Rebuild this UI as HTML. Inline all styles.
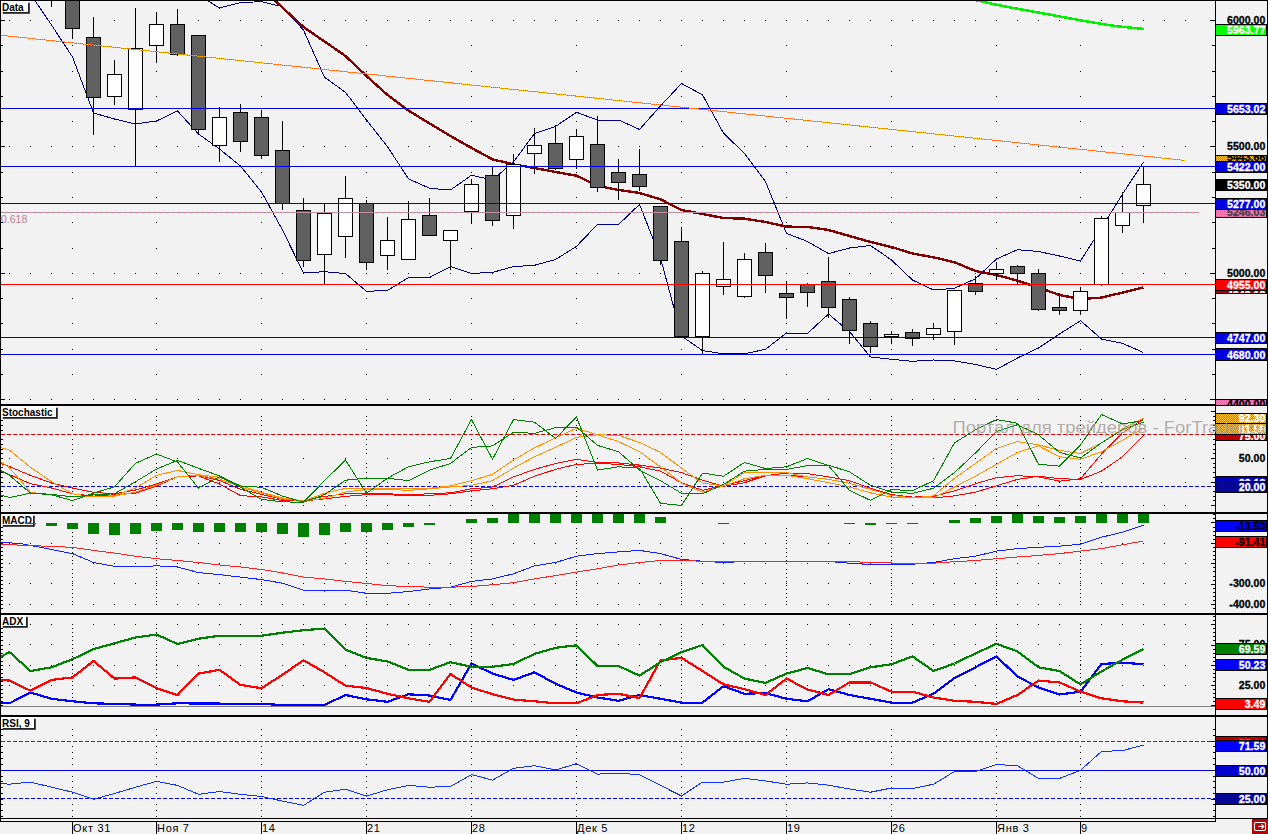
<!DOCTYPE html>
<html><head><meta charset="utf-8"><style>
html,body{margin:0;padding:0;width:1268px;height:834px;overflow:hidden;background:#f2f2f2}
body{position:relative;font-family:"Liberation Sans",sans-serif}
</style></head><body>
<svg width="1268" height="834" viewBox="0 0 1268 834" style="position:absolute;left:0;top:0">
<rect x="0" y="0" width="1268" height="834" fill="#f2f2f2"/>
<path d="M9 20h1v1h-1zM30 20h1v1h-1zM51 20h1v1h-1zM72 20h1v1h-1zM93 20h1v1h-1zM114 20h1v1h-1zM135 20h1v1h-1zM156 20h1v1h-1zM177 20h1v1h-1zM198 20h1v1h-1zM219 20h1v1h-1zM240 20h1v1h-1zM261 20h1v1h-1zM282 20h1v1h-1zM303 20h1v1h-1zM324 20h1v1h-1zM345 20h1v1h-1zM366 20h1v1h-1zM387 20h1v1h-1zM408 20h1v1h-1zM429 20h1v1h-1zM450 20h1v1h-1zM471 20h1v1h-1zM492 20h1v1h-1zM513 20h1v1h-1zM534 20h1v1h-1zM555 20h1v1h-1zM576 20h1v1h-1zM597 20h1v1h-1zM618 20h1v1h-1zM639 20h1v1h-1zM660 20h1v1h-1zM681 20h1v1h-1zM702 20h1v1h-1zM723 20h1v1h-1zM744 20h1v1h-1zM765 20h1v1h-1zM786 20h1v1h-1zM807 20h1v1h-1zM828 20h1v1h-1zM849 20h1v1h-1zM870 20h1v1h-1zM891 20h1v1h-1zM912 20h1v1h-1zM933 20h1v1h-1zM954 20h1v1h-1zM975 20h1v1h-1zM996 20h1v1h-1zM1017 20h1v1h-1zM1038 20h1v1h-1zM1059 20h1v1h-1zM1080 20h1v1h-1zM1101 20h1v1h-1zM1122 20h1v1h-1zM1143 20h1v1h-1zM1164 20h1v1h-1zM1185 20h1v1h-1zM1 20h4v1h-4zM72 45h1v1h-1zM156 45h1v1h-1zM261 45h1v1h-1zM366 45h1v1h-1zM471 45h1v1h-1zM576 45h1v1h-1zM681 45h1v1h-1zM786 45h1v1h-1zM891 45h1v1h-1zM996 45h1v1h-1zM1080 45h1v1h-1zM1 45h2v1h-2zM72 71h1v1h-1zM156 71h1v1h-1zM261 71h1v1h-1zM366 71h1v1h-1zM471 71h1v1h-1zM576 71h1v1h-1zM681 71h1v1h-1zM786 71h1v1h-1zM891 71h1v1h-1zM996 71h1v1h-1zM1080 71h1v1h-1zM1 71h2v1h-2zM72 96h1v1h-1zM156 96h1v1h-1zM261 96h1v1h-1zM366 96h1v1h-1zM471 96h1v1h-1zM576 96h1v1h-1zM681 96h1v1h-1zM786 96h1v1h-1zM891 96h1v1h-1zM996 96h1v1h-1zM1080 96h1v1h-1zM1 96h2v1h-2zM72 121h1v1h-1zM156 121h1v1h-1zM261 121h1v1h-1zM366 121h1v1h-1zM471 121h1v1h-1zM576 121h1v1h-1zM681 121h1v1h-1zM786 121h1v1h-1zM891 121h1v1h-1zM996 121h1v1h-1zM1080 121h1v1h-1zM1 121h2v1h-2zM9 146h1v1h-1zM30 146h1v1h-1zM51 146h1v1h-1zM72 146h1v1h-1zM93 146h1v1h-1zM114 146h1v1h-1zM135 146h1v1h-1zM156 146h1v1h-1zM177 146h1v1h-1zM198 146h1v1h-1zM219 146h1v1h-1zM240 146h1v1h-1zM261 146h1v1h-1zM282 146h1v1h-1zM303 146h1v1h-1zM324 146h1v1h-1zM345 146h1v1h-1zM366 146h1v1h-1zM387 146h1v1h-1zM408 146h1v1h-1zM429 146h1v1h-1zM450 146h1v1h-1zM471 146h1v1h-1zM492 146h1v1h-1zM513 146h1v1h-1zM534 146h1v1h-1zM555 146h1v1h-1zM576 146h1v1h-1zM597 146h1v1h-1zM618 146h1v1h-1zM639 146h1v1h-1zM660 146h1v1h-1zM681 146h1v1h-1zM702 146h1v1h-1zM723 146h1v1h-1zM744 146h1v1h-1zM765 146h1v1h-1zM786 146h1v1h-1zM807 146h1v1h-1zM828 146h1v1h-1zM849 146h1v1h-1zM870 146h1v1h-1zM891 146h1v1h-1zM912 146h1v1h-1zM933 146h1v1h-1zM954 146h1v1h-1zM975 146h1v1h-1zM996 146h1v1h-1zM1017 146h1v1h-1zM1038 146h1v1h-1zM1059 146h1v1h-1zM1080 146h1v1h-1zM1101 146h1v1h-1zM1122 146h1v1h-1zM1143 146h1v1h-1zM1164 146h1v1h-1zM1185 146h1v1h-1zM1 146h4v1h-4zM72 172h1v1h-1zM156 172h1v1h-1zM261 172h1v1h-1zM366 172h1v1h-1zM471 172h1v1h-1zM576 172h1v1h-1zM681 172h1v1h-1zM786 172h1v1h-1zM891 172h1v1h-1zM996 172h1v1h-1zM1080 172h1v1h-1zM1 172h2v1h-2zM72 197h1v1h-1zM156 197h1v1h-1zM261 197h1v1h-1zM366 197h1v1h-1zM471 197h1v1h-1zM576 197h1v1h-1zM681 197h1v1h-1zM786 197h1v1h-1zM891 197h1v1h-1zM996 197h1v1h-1zM1080 197h1v1h-1zM1 197h2v1h-2zM72 222h1v1h-1zM156 222h1v1h-1zM261 222h1v1h-1zM366 222h1v1h-1zM471 222h1v1h-1zM576 222h1v1h-1zM681 222h1v1h-1zM786 222h1v1h-1zM891 222h1v1h-1zM996 222h1v1h-1zM1080 222h1v1h-1zM1 222h2v1h-2zM72 248h1v1h-1zM156 248h1v1h-1zM261 248h1v1h-1zM366 248h1v1h-1zM471 248h1v1h-1zM576 248h1v1h-1zM681 248h1v1h-1zM786 248h1v1h-1zM891 248h1v1h-1zM996 248h1v1h-1zM1080 248h1v1h-1zM1 248h2v1h-2zM9 273h1v1h-1zM30 273h1v1h-1zM51 273h1v1h-1zM72 273h1v1h-1zM93 273h1v1h-1zM114 273h1v1h-1zM135 273h1v1h-1zM156 273h1v1h-1zM177 273h1v1h-1zM198 273h1v1h-1zM219 273h1v1h-1zM240 273h1v1h-1zM261 273h1v1h-1zM282 273h1v1h-1zM303 273h1v1h-1zM324 273h1v1h-1zM345 273h1v1h-1zM366 273h1v1h-1zM387 273h1v1h-1zM408 273h1v1h-1zM429 273h1v1h-1zM450 273h1v1h-1zM471 273h1v1h-1zM492 273h1v1h-1zM513 273h1v1h-1zM534 273h1v1h-1zM555 273h1v1h-1zM576 273h1v1h-1zM597 273h1v1h-1zM618 273h1v1h-1zM639 273h1v1h-1zM660 273h1v1h-1zM681 273h1v1h-1zM702 273h1v1h-1zM723 273h1v1h-1zM744 273h1v1h-1zM765 273h1v1h-1zM786 273h1v1h-1zM807 273h1v1h-1zM828 273h1v1h-1zM849 273h1v1h-1zM870 273h1v1h-1zM891 273h1v1h-1zM912 273h1v1h-1zM933 273h1v1h-1zM954 273h1v1h-1zM975 273h1v1h-1zM996 273h1v1h-1zM1017 273h1v1h-1zM1038 273h1v1h-1zM1059 273h1v1h-1zM1080 273h1v1h-1zM1101 273h1v1h-1zM1122 273h1v1h-1zM1143 273h1v1h-1zM1164 273h1v1h-1zM1185 273h1v1h-1zM1 273h4v1h-4zM72 298h1v1h-1zM156 298h1v1h-1zM261 298h1v1h-1zM366 298h1v1h-1zM471 298h1v1h-1zM576 298h1v1h-1zM681 298h1v1h-1zM786 298h1v1h-1zM891 298h1v1h-1zM996 298h1v1h-1zM1080 298h1v1h-1zM1 298h2v1h-2zM72 323h1v1h-1zM156 323h1v1h-1zM261 323h1v1h-1zM366 323h1v1h-1zM471 323h1v1h-1zM576 323h1v1h-1zM681 323h1v1h-1zM786 323h1v1h-1zM891 323h1v1h-1zM996 323h1v1h-1zM1080 323h1v1h-1zM1 323h2v1h-2zM72 349h1v1h-1zM156 349h1v1h-1zM261 349h1v1h-1zM366 349h1v1h-1zM471 349h1v1h-1zM576 349h1v1h-1zM681 349h1v1h-1zM786 349h1v1h-1zM891 349h1v1h-1zM996 349h1v1h-1zM1080 349h1v1h-1zM1 349h2v1h-2zM72 374h1v1h-1zM156 374h1v1h-1zM261 374h1v1h-1zM366 374h1v1h-1zM471 374h1v1h-1zM576 374h1v1h-1zM681 374h1v1h-1zM786 374h1v1h-1zM891 374h1v1h-1zM996 374h1v1h-1zM1080 374h1v1h-1zM1 374h2v1h-2zM9 399h1v1h-1zM30 399h1v1h-1zM51 399h1v1h-1zM72 399h1v1h-1zM93 399h1v1h-1zM114 399h1v1h-1zM135 399h1v1h-1zM156 399h1v1h-1zM177 399h1v1h-1zM198 399h1v1h-1zM219 399h1v1h-1zM240 399h1v1h-1zM261 399h1v1h-1zM282 399h1v1h-1zM303 399h1v1h-1zM324 399h1v1h-1zM345 399h1v1h-1zM366 399h1v1h-1zM387 399h1v1h-1zM408 399h1v1h-1zM429 399h1v1h-1zM450 399h1v1h-1zM471 399h1v1h-1zM492 399h1v1h-1zM513 399h1v1h-1zM534 399h1v1h-1zM555 399h1v1h-1zM576 399h1v1h-1zM597 399h1v1h-1zM618 399h1v1h-1zM639 399h1v1h-1zM660 399h1v1h-1zM681 399h1v1h-1zM702 399h1v1h-1zM723 399h1v1h-1zM744 399h1v1h-1zM765 399h1v1h-1zM786 399h1v1h-1zM807 399h1v1h-1zM828 399h1v1h-1zM849 399h1v1h-1zM870 399h1v1h-1zM891 399h1v1h-1zM912 399h1v1h-1zM933 399h1v1h-1zM954 399h1v1h-1zM975 399h1v1h-1zM996 399h1v1h-1zM1017 399h1v1h-1zM1038 399h1v1h-1zM1059 399h1v1h-1zM1080 399h1v1h-1zM1101 399h1v1h-1zM1122 399h1v1h-1zM1143 399h1v1h-1zM1164 399h1v1h-1zM1185 399h1v1h-1zM1 399h4v1h-4z" fill="#000"/>
<g shape-rendering="crispEdges">
<polyline points="198.5,-5.0 219.5,8.0 240.5,2.5 261.5,1.7 282.5,6.7 303.5,30.2 324.5,77.2 345.5,92.4 366.5,120.0 387.5,146.7 408.5,178.8 429.5,188.3 450.5,190.0 471.5,175.2 492.5,180.0 513.5,161.9 534.5,133.5 555.5,126.5 576.5,112.3 597.5,120.0 618.5,120.0 639.5,129.4 660.5,106.0 681.5,83.5 702.5,94.8 723.5,133.2 744.5,153.4 765.5,181.6 786.5,233.4 807.5,241.5 828.5,253.6 849.5,248.0 870.5,245.5 891.5,260.0 912.5,280.0 933.5,290.0 954.5,288.3 975.5,278.7 996.5,259.0 1017.5,249.7 1038.5,251.5 1059.5,256.0 1080.5,261.0 1101.5,228.0 1122.5,194.0 1143.5,162.0" fill="none" stroke="#000080" stroke-width="1" />
<polyline points="34.5,0.0 51.5,25.0 72.5,57.0 93.5,113.0 114.5,119.0 135.5,124.0 156.5,121.0 177.5,111.0 198.5,134.0 219.5,149.0 240.5,166.0 261.5,192.0 282.5,230.0 303.5,273.0 324.5,271.7 345.5,273.6 366.5,291.3 387.5,290.5 408.5,277.5 429.5,277.5 450.5,266.6 471.5,273.4 492.5,272.4 513.5,266.6 534.5,265.3 555.5,259.5 576.5,246.4 597.5,224.4 618.5,224.6 639.5,204.4 660.5,258.0 681.5,336.0 702.5,350.6 723.5,353.8 744.5,353.8 765.5,349.3 786.5,333.0 807.5,333.4 828.5,314.0 849.5,331.6 870.5,357.0 891.5,359.3 912.5,361.3 933.5,360.0 954.5,361.0 975.5,364.4 996.5,369.4 1017.5,358.0 1038.5,348.0 1059.5,334.0 1080.5,320.7 1101.5,339.0 1122.5,343.4 1143.5,352.5" fill="none" stroke="#000080" stroke-width="1" />
<polyline points="261.5,-12.0 282.5,7.6 303.5,27.0 324.5,41.5 345.5,56.0 366.5,76.0 387.5,95.0 408.5,110.5 429.5,123.5 450.5,136.0 471.5,148.0 492.5,159.3 513.5,164.4 534.5,168.0 555.5,172.0 576.5,175.7 597.5,185.8 618.5,190.0 639.5,193.0 660.5,199.3 681.5,210.0 702.5,214.0 723.5,218.0 744.5,218.7 765.5,222.0 786.5,226.6 807.5,227.0 828.5,230.0 849.5,236.0 870.5,242.0 891.5,247.0 912.5,253.5 933.5,257.3 954.5,262.3 975.5,271.0 996.5,275.0 1017.5,280.7 1038.5,287.5 1059.5,295.0 1080.5,299.0 1101.5,297.6 1122.5,292.6 1143.5,287.5" fill="none" stroke="#800000" stroke-width="2.4" />
</g>
<g shape-rendering="crispEdges"><rect x="72" y="28" width="1" height="11" fill="#000"/><rect x="65.5" y="0.5" width="14" height="28" fill="#606060" stroke="#000" stroke-width="1"/><rect x="93" y="17" width="1" height="20" fill="#000"/><rect x="93" y="97" width="1" height="38" fill="#000"/><rect x="86.5" y="37.5" width="14" height="60" fill="#606060" stroke="#000" stroke-width="1"/><rect x="114" y="60" width="1" height="14" fill="#000"/><rect x="114" y="96" width="1" height="9" fill="#000"/><rect x="107.5" y="74.5" width="14" height="22" fill="#ffffff" stroke="#000" stroke-width="1"/><rect x="135" y="8" width="1" height="40" fill="#000"/><rect x="135" y="109" width="1" height="58" fill="#000"/><rect x="128.5" y="48.5" width="14" height="61" fill="#ffffff" stroke="#000" stroke-width="1"/><rect x="156" y="12" width="1" height="12" fill="#000"/><rect x="156" y="45" width="1" height="18" fill="#000"/><rect x="149.5" y="24.5" width="14" height="21" fill="#ffffff" stroke="#000" stroke-width="1"/><rect x="177" y="9" width="1" height="15" fill="#000"/><rect x="177" y="54" width="1" height="2" fill="#000"/><rect x="170.5" y="24.5" width="14" height="30" fill="#606060" stroke="#000" stroke-width="1"/><rect x="198" y="129" width="1" height="4" fill="#000"/><rect x="191.5" y="35.5" width="14" height="94" fill="#606060" stroke="#000" stroke-width="1"/><rect x="219" y="107" width="1" height="10" fill="#000"/><rect x="219" y="145" width="1" height="17" fill="#000"/><rect x="212.5" y="117.5" width="14" height="28" fill="#ffffff" stroke="#000" stroke-width="1"/><rect x="240" y="104" width="1" height="8" fill="#000"/><rect x="240" y="141" width="1" height="11" fill="#000"/><rect x="233.5" y="112.5" width="14" height="29" fill="#606060" stroke="#000" stroke-width="1"/><rect x="261" y="110" width="1" height="7" fill="#000"/><rect x="261" y="155" width="1" height="4" fill="#000"/><rect x="254.5" y="117.5" width="14" height="38" fill="#606060" stroke="#000" stroke-width="1"/><rect x="282" y="121" width="1" height="29" fill="#000"/><rect x="282" y="203" width="1" height="7" fill="#000"/><rect x="275.5" y="150.5" width="14" height="53" fill="#606060" stroke="#000" stroke-width="1"/><rect x="303" y="198" width="1" height="12" fill="#000"/><rect x="303" y="260" width="1" height="7" fill="#000"/><rect x="296.5" y="210.5" width="14" height="50" fill="#606060" stroke="#000" stroke-width="1"/><rect x="324" y="203" width="1" height="10" fill="#000"/><rect x="324" y="254" width="1" height="31" fill="#000"/><rect x="317.5" y="213.5" width="14" height="41" fill="#ffffff" stroke="#000" stroke-width="1"/><rect x="345" y="176" width="1" height="22" fill="#000"/><rect x="345" y="236" width="1" height="22" fill="#000"/><rect x="338.5" y="198.5" width="14" height="38" fill="#ffffff" stroke="#000" stroke-width="1"/><rect x="366" y="200" width="1" height="3" fill="#000"/><rect x="366" y="262" width="1" height="8" fill="#000"/><rect x="359.5" y="203.5" width="14" height="59" fill="#606060" stroke="#000" stroke-width="1"/><rect x="387" y="217" width="1" height="23" fill="#000"/><rect x="387" y="255" width="1" height="15" fill="#000"/><rect x="380.5" y="240.5" width="14" height="15" fill="#ffffff" stroke="#000" stroke-width="1"/><rect x="408" y="201" width="1" height="18" fill="#000"/><rect x="401.5" y="219.5" width="14" height="40" fill="#ffffff" stroke="#000" stroke-width="1"/><rect x="429" y="198" width="1" height="17" fill="#000"/><rect x="422.5" y="215.5" width="14" height="20" fill="#606060" stroke="#000" stroke-width="1"/><rect x="450" y="240" width="1" height="30" fill="#000"/><rect x="443.5" y="230.5" width="14" height="10" fill="#ffffff" stroke="#000" stroke-width="1"/><rect x="471" y="179" width="1" height="5" fill="#000"/><rect x="471" y="211" width="1" height="13" fill="#000"/><rect x="464.5" y="184.5" width="14" height="27" fill="#ffffff" stroke="#000" stroke-width="1"/><rect x="492" y="167" width="1" height="8" fill="#000"/><rect x="492" y="220" width="1" height="6" fill="#000"/><rect x="485.5" y="175.5" width="14" height="45" fill="#606060" stroke="#000" stroke-width="1"/><rect x="513" y="154" width="1" height="10" fill="#000"/><rect x="513" y="215" width="1" height="14" fill="#000"/><rect x="506.5" y="164.5" width="14" height="51" fill="#ffffff" stroke="#000" stroke-width="1"/><rect x="534" y="128" width="1" height="17" fill="#000"/><rect x="534" y="153" width="1" height="21" fill="#000"/><rect x="527.5" y="145.5" width="14" height="8" fill="#ffffff" stroke="#000" stroke-width="1"/><rect x="555" y="125" width="1" height="18" fill="#000"/><rect x="555" y="168" width="1" height="2" fill="#000"/><rect x="548.5" y="143.5" width="14" height="25" fill="#606060" stroke="#000" stroke-width="1"/><rect x="576" y="129" width="1" height="7" fill="#000"/><rect x="576" y="159" width="1" height="10" fill="#000"/><rect x="569.5" y="136.5" width="14" height="23" fill="#ffffff" stroke="#000" stroke-width="1"/><rect x="597" y="116" width="1" height="28" fill="#000"/><rect x="597" y="187" width="1" height="5" fill="#000"/><rect x="590.5" y="144.5" width="14" height="43" fill="#606060" stroke="#000" stroke-width="1"/><rect x="618" y="159" width="1" height="13" fill="#000"/><rect x="618" y="182" width="1" height="18" fill="#000"/><rect x="611.5" y="172.5" width="14" height="10" fill="#606060" stroke="#000" stroke-width="1"/><rect x="639" y="149" width="1" height="25" fill="#000"/><rect x="639" y="186" width="1" height="5" fill="#000"/><rect x="632.5" y="174.5" width="14" height="12" fill="#606060" stroke="#000" stroke-width="1"/><rect x="660" y="260" width="1" height="5" fill="#000"/><rect x="653.5" y="206.5" width="14" height="54" fill="#606060" stroke="#000" stroke-width="1"/><rect x="681" y="227" width="1" height="14" fill="#000"/><rect x="674.5" y="241.5" width="14" height="95" fill="#606060" stroke="#000" stroke-width="1"/><rect x="702" y="271" width="1" height="2" fill="#000"/><rect x="702" y="336" width="1" height="19" fill="#000"/><rect x="695.5" y="273.5" width="14" height="63" fill="#ffffff" stroke="#000" stroke-width="1"/><rect x="723" y="242" width="1" height="37" fill="#000"/><rect x="723" y="286" width="1" height="9" fill="#000"/><rect x="716.5" y="279.5" width="14" height="7" fill="#ffffff" stroke="#000" stroke-width="1"/><rect x="744" y="253" width="1" height="6" fill="#000"/><rect x="744" y="296" width="1" height="2" fill="#000"/><rect x="737.5" y="259.5" width="14" height="37" fill="#ffffff" stroke="#000" stroke-width="1"/><rect x="765" y="243" width="1" height="9" fill="#000"/><rect x="765" y="275" width="1" height="18" fill="#000"/><rect x="758.5" y="252.5" width="14" height="23" fill="#606060" stroke="#000" stroke-width="1"/><rect x="786" y="281" width="1" height="12" fill="#000"/><rect x="786" y="297" width="1" height="22" fill="#000"/><rect x="779.5" y="293.5" width="14" height="4" fill="#606060" stroke="#000" stroke-width="1"/><rect x="807" y="283" width="1" height="1" fill="#000"/><rect x="807" y="292" width="1" height="15" fill="#000"/><rect x="800.5" y="284.5" width="14" height="8" fill="#606060" stroke="#000" stroke-width="1"/><rect x="828" y="257" width="1" height="24" fill="#000"/><rect x="828" y="307" width="1" height="11" fill="#000"/><rect x="821.5" y="281.5" width="14" height="26" fill="#606060" stroke="#000" stroke-width="1"/><rect x="849" y="297" width="1" height="2" fill="#000"/><rect x="849" y="330" width="1" height="14" fill="#000"/><rect x="842.5" y="299.5" width="14" height="31" fill="#606060" stroke="#000" stroke-width="1"/><rect x="870" y="321" width="1" height="2" fill="#000"/><rect x="870" y="346" width="1" height="7" fill="#000"/><rect x="863.5" y="323.5" width="14" height="23" fill="#606060" stroke="#000" stroke-width="1"/><rect x="891" y="331" width="1" height="3" fill="#000"/><rect x="891" y="336" width="1" height="8" fill="#000"/><rect x="884.5" y="334.5" width="14" height="2" fill="#ffffff" stroke="#000" stroke-width="1"/><rect x="912" y="329" width="1" height="3" fill="#000"/><rect x="912" y="338" width="1" height="8" fill="#000"/><rect x="905.5" y="332.5" width="14" height="6" fill="#606060" stroke="#000" stroke-width="1"/><rect x="933" y="323" width="1" height="5" fill="#000"/><rect x="933" y="334" width="1" height="6" fill="#000"/><rect x="926.5" y="328.5" width="14" height="6" fill="#ffffff" stroke="#000" stroke-width="1"/><rect x="954" y="331" width="1" height="14" fill="#000"/><rect x="947.5" y="290.5" width="14" height="41" fill="#ffffff" stroke="#000" stroke-width="1"/><rect x="975" y="276" width="1" height="7" fill="#000"/><rect x="975" y="291" width="1" height="4" fill="#000"/><rect x="968.5" y="283.5" width="14" height="8" fill="#606060" stroke="#000" stroke-width="1"/><rect x="996" y="262" width="1" height="7" fill="#000"/><rect x="996" y="273" width="1" height="7" fill="#000"/><rect x="989.5" y="269.5" width="14" height="4" fill="#ffffff" stroke="#000" stroke-width="1"/><rect x="1017" y="265" width="1" height="1" fill="#000"/><rect x="1017" y="273" width="1" height="11" fill="#000"/><rect x="1010.5" y="266.5" width="14" height="7" fill="#606060" stroke="#000" stroke-width="1"/><rect x="1038" y="269" width="1" height="4" fill="#000"/><rect x="1038" y="309" width="1" height="2" fill="#000"/><rect x="1031.5" y="273.5" width="14" height="36" fill="#606060" stroke="#000" stroke-width="1"/><rect x="1059" y="293" width="1" height="14" fill="#000"/><rect x="1059" y="310" width="1" height="5" fill="#000"/><rect x="1052.5" y="307.5" width="14" height="3" fill="#606060" stroke="#000" stroke-width="1"/><rect x="1080" y="287" width="1" height="4" fill="#000"/><rect x="1080" y="310" width="1" height="5" fill="#000"/><rect x="1073.5" y="291.5" width="14" height="19" fill="#ffffff" stroke="#000" stroke-width="1"/><rect x="1101" y="216" width="1" height="2" fill="#000"/><rect x="1101" y="284" width="1" height="2" fill="#000"/><rect x="1094.5" y="218.5" width="14" height="66" fill="#ffffff" stroke="#000" stroke-width="1"/><rect x="1122" y="192" width="1" height="20" fill="#000"/><rect x="1122" y="225" width="1" height="8" fill="#000"/><rect x="1115.5" y="212.5" width="14" height="13" fill="#ffffff" stroke="#000" stroke-width="1"/><rect x="1143" y="166" width="1" height="18" fill="#000"/><rect x="1143" y="205" width="1" height="18" fill="#000"/><rect x="1136.5" y="184.5" width="14" height="21" fill="#ffffff" stroke="#000" stroke-width="1"/><rect x="51" y="0" width="1" height="7" fill="#000"/></g>
<g shape-rendering="crispEdges">
<rect x="1" y="108" width="1214" height="1" fill="#0000dd"/>
<rect x="1" y="166" width="1214" height="1" fill="#0000dd"/>
<rect x="1" y="203" width="1214" height="1" fill="#0000dd"/>
<rect x="1" y="337" width="1214" height="1" fill="#0000dd"/>
<rect x="1" y="354" width="1214" height="1" fill="#0000dd"/>
<rect x="1" y="284" width="1214" height="1" fill="#ff0000"/>
<rect x="1" y="212" width="1198" height="1" fill="#a0a0a0"/>
<line x1="1" y1="212.5" x2="1199" y2="212.5" stroke="#ff70a0" stroke-width="1" stroke-dasharray="1,2"/>
</g>
<text x="1" y="222.8" font-family="Liberation Sans" font-size="10.5" fill="#b88090">0.618</text>
<g shape-rendering="crispEdges"><line x1="0" y1="35.2" x2="1185" y2="160.4" stroke="#ffb000" stroke-width="1"/><line x1="0" y1="35.2" x2="1185" y2="160.4" stroke="#ff5a00" stroke-width="1" stroke-dasharray="1,1"/></g>
<polyline points="975,0 1000,5.5 1030,11 1060,16.5 1090,22 1115,26 1144,29" fill="none" stroke="#00f000" stroke-width="2.5" shape-rendering="crispEdges"/>
<path d="M72 505h1v1h-1zM72 500h1v1h-1zM72 496h1v1h-1zM72 491h1v1h-1zM72 477h1v1h-1zM72 472h1v1h-1zM72 467h1v1h-1zM72 463h1v1h-1zM72 453h1v1h-1zM72 449h1v1h-1zM72 444h1v1h-1zM72 439h1v1h-1zM72 430h1v1h-1zM72 425h1v1h-1zM72 420h1v1h-1zM72 416h1v1h-1zM156 505h1v1h-1zM156 500h1v1h-1zM156 496h1v1h-1zM156 491h1v1h-1zM156 477h1v1h-1zM156 472h1v1h-1zM156 467h1v1h-1zM156 463h1v1h-1zM156 453h1v1h-1zM156 449h1v1h-1zM156 444h1v1h-1zM156 439h1v1h-1zM156 430h1v1h-1zM156 425h1v1h-1zM156 420h1v1h-1zM156 416h1v1h-1zM261 505h1v1h-1zM261 500h1v1h-1zM261 496h1v1h-1zM261 491h1v1h-1zM261 477h1v1h-1zM261 472h1v1h-1zM261 467h1v1h-1zM261 463h1v1h-1zM261 453h1v1h-1zM261 449h1v1h-1zM261 444h1v1h-1zM261 439h1v1h-1zM261 430h1v1h-1zM261 425h1v1h-1zM261 420h1v1h-1zM261 416h1v1h-1zM366 505h1v1h-1zM366 500h1v1h-1zM366 496h1v1h-1zM366 491h1v1h-1zM366 477h1v1h-1zM366 472h1v1h-1zM366 467h1v1h-1zM366 463h1v1h-1zM366 453h1v1h-1zM366 449h1v1h-1zM366 444h1v1h-1zM366 439h1v1h-1zM366 430h1v1h-1zM366 425h1v1h-1zM366 420h1v1h-1zM366 416h1v1h-1zM471 505h1v1h-1zM471 500h1v1h-1zM471 496h1v1h-1zM471 491h1v1h-1zM471 477h1v1h-1zM471 472h1v1h-1zM471 467h1v1h-1zM471 463h1v1h-1zM471 453h1v1h-1zM471 449h1v1h-1zM471 444h1v1h-1zM471 439h1v1h-1zM471 430h1v1h-1zM471 425h1v1h-1zM471 420h1v1h-1zM471 416h1v1h-1zM576 505h1v1h-1zM576 500h1v1h-1zM576 496h1v1h-1zM576 491h1v1h-1zM576 477h1v1h-1zM576 472h1v1h-1zM576 467h1v1h-1zM576 463h1v1h-1zM576 453h1v1h-1zM576 449h1v1h-1zM576 444h1v1h-1zM576 439h1v1h-1zM576 430h1v1h-1zM576 425h1v1h-1zM576 420h1v1h-1zM576 416h1v1h-1zM681 505h1v1h-1zM681 500h1v1h-1zM681 496h1v1h-1zM681 491h1v1h-1zM681 477h1v1h-1zM681 472h1v1h-1zM681 467h1v1h-1zM681 463h1v1h-1zM681 453h1v1h-1zM681 449h1v1h-1zM681 444h1v1h-1zM681 439h1v1h-1zM681 430h1v1h-1zM681 425h1v1h-1zM681 420h1v1h-1zM681 416h1v1h-1zM786 505h1v1h-1zM786 500h1v1h-1zM786 496h1v1h-1zM786 491h1v1h-1zM786 477h1v1h-1zM786 472h1v1h-1zM786 467h1v1h-1zM786 463h1v1h-1zM786 453h1v1h-1zM786 449h1v1h-1zM786 444h1v1h-1zM786 439h1v1h-1zM786 430h1v1h-1zM786 425h1v1h-1zM786 420h1v1h-1zM786 416h1v1h-1zM891 505h1v1h-1zM891 500h1v1h-1zM891 496h1v1h-1zM891 491h1v1h-1zM891 477h1v1h-1zM891 472h1v1h-1zM891 467h1v1h-1zM891 463h1v1h-1zM891 453h1v1h-1zM891 449h1v1h-1zM891 444h1v1h-1zM891 439h1v1h-1zM891 430h1v1h-1zM891 425h1v1h-1zM891 420h1v1h-1zM891 416h1v1h-1zM996 505h1v1h-1zM996 500h1v1h-1zM996 496h1v1h-1zM996 491h1v1h-1zM996 477h1v1h-1zM996 472h1v1h-1zM996 467h1v1h-1zM996 463h1v1h-1zM996 453h1v1h-1zM996 449h1v1h-1zM996 444h1v1h-1zM996 439h1v1h-1zM996 430h1v1h-1zM996 425h1v1h-1zM996 420h1v1h-1zM996 416h1v1h-1zM1080 505h1v1h-1zM1080 500h1v1h-1zM1080 496h1v1h-1zM1080 491h1v1h-1zM1080 477h1v1h-1zM1080 472h1v1h-1zM1080 467h1v1h-1zM1080 463h1v1h-1zM1080 453h1v1h-1zM1080 449h1v1h-1zM1080 444h1v1h-1zM1080 439h1v1h-1zM1080 430h1v1h-1zM1080 425h1v1h-1zM1080 420h1v1h-1zM1080 416h1v1h-1zM9 505h1v1h-1zM30 505h1v1h-1zM51 505h1v1h-1zM72 505h1v1h-1zM93 505h1v1h-1zM114 505h1v1h-1zM135 505h1v1h-1zM156 505h1v1h-1zM177 505h1v1h-1zM198 505h1v1h-1zM219 505h1v1h-1zM240 505h1v1h-1zM261 505h1v1h-1zM282 505h1v1h-1zM303 505h1v1h-1zM324 505h1v1h-1zM345 505h1v1h-1zM366 505h1v1h-1zM387 505h1v1h-1zM408 505h1v1h-1zM429 505h1v1h-1zM450 505h1v1h-1zM471 505h1v1h-1zM492 505h1v1h-1zM513 505h1v1h-1zM534 505h1v1h-1zM555 505h1v1h-1zM576 505h1v1h-1zM597 505h1v1h-1zM618 505h1v1h-1zM639 505h1v1h-1zM660 505h1v1h-1zM681 505h1v1h-1zM702 505h1v1h-1zM723 505h1v1h-1zM744 505h1v1h-1zM765 505h1v1h-1zM786 505h1v1h-1zM807 505h1v1h-1zM828 505h1v1h-1zM849 505h1v1h-1zM870 505h1v1h-1zM891 505h1v1h-1zM912 505h1v1h-1zM933 505h1v1h-1zM954 505h1v1h-1zM975 505h1v1h-1zM996 505h1v1h-1zM1017 505h1v1h-1zM1038 505h1v1h-1zM1059 505h1v1h-1zM1080 505h1v1h-1zM1101 505h1v1h-1zM1122 505h1v1h-1zM1143 505h1v1h-1zM1164 505h1v1h-1zM1185 505h1v1h-1zM9 458h1v1h-1zM9 482h1v1h-1zM51 458h1v1h-1zM51 482h1v1h-1zM93 458h1v1h-1zM93 482h1v1h-1zM135 458h1v1h-1zM135 482h1v1h-1zM177 458h1v1h-1zM177 482h1v1h-1zM219 458h1v1h-1zM219 482h1v1h-1zM261 458h1v1h-1zM261 482h1v1h-1zM303 458h1v1h-1zM303 482h1v1h-1zM345 458h1v1h-1zM345 482h1v1h-1zM387 458h1v1h-1zM387 482h1v1h-1zM429 458h1v1h-1zM429 482h1v1h-1zM471 458h1v1h-1zM471 482h1v1h-1zM513 458h1v1h-1zM513 482h1v1h-1zM555 458h1v1h-1zM555 482h1v1h-1zM597 458h1v1h-1zM597 482h1v1h-1zM639 458h1v1h-1zM639 482h1v1h-1zM681 458h1v1h-1zM681 482h1v1h-1zM723 458h1v1h-1zM723 482h1v1h-1zM765 458h1v1h-1zM765 482h1v1h-1zM807 458h1v1h-1zM807 482h1v1h-1zM849 458h1v1h-1zM849 482h1v1h-1zM891 458h1v1h-1zM891 482h1v1h-1zM933 458h1v1h-1zM933 482h1v1h-1zM975 458h1v1h-1zM975 482h1v1h-1zM1017 458h1v1h-1zM1017 482h1v1h-1zM1059 458h1v1h-1zM1059 482h1v1h-1zM1101 458h1v1h-1zM1101 482h1v1h-1zM1143 458h1v1h-1zM1143 482h1v1h-1zM1185 458h1v1h-1zM1185 482h1v1h-1zM1 505h2v1h-2zM1 500h2v1h-2zM1 496h2v1h-2zM1 491h2v1h-2zM1 486h2v1h-2zM1 482h2v1h-2zM1 477h2v1h-2zM1 472h2v1h-2zM1 467h2v1h-2zM1 463h2v1h-2zM1 458h2v1h-2zM1 453h2v1h-2zM1 449h2v1h-2zM1 444h2v1h-2zM1 439h2v1h-2zM1 434h2v1h-2zM1 430h2v1h-2zM1 425h2v1h-2zM1 420h2v1h-2zM1 416h2v1h-2zM1 411h2v1h-2zM1 406h2v1h-2zM9 543h1v1h-1zM30 543h1v1h-1zM51 543h1v1h-1zM72 543h1v1h-1zM93 543h1v1h-1zM114 543h1v1h-1zM135 543h1v1h-1zM156 543h1v1h-1zM177 543h1v1h-1zM198 543h1v1h-1zM219 543h1v1h-1zM240 543h1v1h-1zM261 543h1v1h-1zM282 543h1v1h-1zM303 543h1v1h-1zM324 543h1v1h-1zM345 543h1v1h-1zM366 543h1v1h-1zM387 543h1v1h-1zM408 543h1v1h-1zM429 543h1v1h-1zM450 543h1v1h-1zM471 543h1v1h-1zM492 543h1v1h-1zM513 543h1v1h-1zM534 543h1v1h-1zM555 543h1v1h-1zM576 543h1v1h-1zM597 543h1v1h-1zM618 543h1v1h-1zM639 543h1v1h-1zM660 543h1v1h-1zM681 543h1v1h-1zM702 543h1v1h-1zM723 543h1v1h-1zM744 543h1v1h-1zM765 543h1v1h-1zM786 543h1v1h-1zM807 543h1v1h-1zM828 543h1v1h-1zM849 543h1v1h-1zM870 543h1v1h-1zM891 543h1v1h-1zM912 543h1v1h-1zM933 543h1v1h-1zM954 543h1v1h-1zM975 543h1v1h-1zM996 543h1v1h-1zM1017 543h1v1h-1zM1038 543h1v1h-1zM1059 543h1v1h-1zM1080 543h1v1h-1zM1101 543h1v1h-1zM1122 543h1v1h-1zM1143 543h1v1h-1zM1164 543h1v1h-1zM1185 543h1v1h-1zM9 563h1v1h-1zM30 563h1v1h-1zM51 563h1v1h-1zM72 563h1v1h-1zM93 563h1v1h-1zM114 563h1v1h-1zM135 563h1v1h-1zM156 563h1v1h-1zM177 563h1v1h-1zM198 563h1v1h-1zM219 563h1v1h-1zM240 563h1v1h-1zM261 563h1v1h-1zM282 563h1v1h-1zM303 563h1v1h-1zM324 563h1v1h-1zM345 563h1v1h-1zM366 563h1v1h-1zM387 563h1v1h-1zM408 563h1v1h-1zM429 563h1v1h-1zM450 563h1v1h-1zM471 563h1v1h-1zM492 563h1v1h-1zM513 563h1v1h-1zM534 563h1v1h-1zM555 563h1v1h-1zM576 563h1v1h-1zM597 563h1v1h-1zM618 563h1v1h-1zM639 563h1v1h-1zM660 563h1v1h-1zM681 563h1v1h-1zM702 563h1v1h-1zM723 563h1v1h-1zM744 563h1v1h-1zM765 563h1v1h-1zM786 563h1v1h-1zM807 563h1v1h-1zM828 563h1v1h-1zM849 563h1v1h-1zM870 563h1v1h-1zM891 563h1v1h-1zM912 563h1v1h-1zM933 563h1v1h-1zM954 563h1v1h-1zM975 563h1v1h-1zM996 563h1v1h-1zM1017 563h1v1h-1zM1038 563h1v1h-1zM1059 563h1v1h-1zM1080 563h1v1h-1zM1101 563h1v1h-1zM1122 563h1v1h-1zM1143 563h1v1h-1zM1164 563h1v1h-1zM1185 563h1v1h-1zM9 583h1v1h-1zM30 583h1v1h-1zM51 583h1v1h-1zM72 583h1v1h-1zM93 583h1v1h-1zM114 583h1v1h-1zM135 583h1v1h-1zM156 583h1v1h-1zM177 583h1v1h-1zM198 583h1v1h-1zM219 583h1v1h-1zM240 583h1v1h-1zM261 583h1v1h-1zM282 583h1v1h-1zM303 583h1v1h-1zM324 583h1v1h-1zM345 583h1v1h-1zM366 583h1v1h-1zM387 583h1v1h-1zM408 583h1v1h-1zM429 583h1v1h-1zM450 583h1v1h-1zM471 583h1v1h-1zM492 583h1v1h-1zM513 583h1v1h-1zM534 583h1v1h-1zM555 583h1v1h-1zM576 583h1v1h-1zM597 583h1v1h-1zM618 583h1v1h-1zM639 583h1v1h-1zM660 583h1v1h-1zM681 583h1v1h-1zM702 583h1v1h-1zM723 583h1v1h-1zM744 583h1v1h-1zM765 583h1v1h-1zM786 583h1v1h-1zM807 583h1v1h-1zM828 583h1v1h-1zM849 583h1v1h-1zM870 583h1v1h-1zM891 583h1v1h-1zM912 583h1v1h-1zM933 583h1v1h-1zM954 583h1v1h-1zM975 583h1v1h-1zM996 583h1v1h-1zM1017 583h1v1h-1zM1038 583h1v1h-1zM1059 583h1v1h-1zM1080 583h1v1h-1zM1101 583h1v1h-1zM1122 583h1v1h-1zM1143 583h1v1h-1zM1164 583h1v1h-1zM1185 583h1v1h-1zM9 604h1v1h-1zM30 604h1v1h-1zM51 604h1v1h-1zM72 604h1v1h-1zM93 604h1v1h-1zM114 604h1v1h-1zM135 604h1v1h-1zM156 604h1v1h-1zM177 604h1v1h-1zM198 604h1v1h-1zM219 604h1v1h-1zM240 604h1v1h-1zM261 604h1v1h-1zM282 604h1v1h-1zM303 604h1v1h-1zM324 604h1v1h-1zM345 604h1v1h-1zM366 604h1v1h-1zM387 604h1v1h-1zM408 604h1v1h-1zM429 604h1v1h-1zM450 604h1v1h-1zM471 604h1v1h-1zM492 604h1v1h-1zM513 604h1v1h-1zM534 604h1v1h-1zM555 604h1v1h-1zM576 604h1v1h-1zM597 604h1v1h-1zM618 604h1v1h-1zM639 604h1v1h-1zM660 604h1v1h-1zM681 604h1v1h-1zM702 604h1v1h-1zM723 604h1v1h-1zM744 604h1v1h-1zM765 604h1v1h-1zM786 604h1v1h-1zM807 604h1v1h-1zM828 604h1v1h-1zM849 604h1v1h-1zM870 604h1v1h-1zM891 604h1v1h-1zM912 604h1v1h-1zM933 604h1v1h-1zM954 604h1v1h-1zM975 604h1v1h-1zM996 604h1v1h-1zM1017 604h1v1h-1zM1038 604h1v1h-1zM1059 604h1v1h-1zM1080 604h1v1h-1zM1101 604h1v1h-1zM1122 604h1v1h-1zM1143 604h1v1h-1zM1164 604h1v1h-1zM1185 604h1v1h-1zM72 528h1v1h-1zM72 532h1v1h-1zM72 536h1v1h-1zM72 540h1v1h-1zM72 548h1v1h-1zM72 552h1v1h-1zM72 556h1v1h-1zM72 560h1v1h-1zM72 569h1v1h-1zM72 573h1v1h-1zM72 577h1v1h-1zM72 581h1v1h-1zM72 585h1v1h-1zM72 589h1v1h-1zM72 593h1v1h-1zM72 597h1v1h-1zM72 601h1v1h-1zM156 528h1v1h-1zM156 532h1v1h-1zM156 536h1v1h-1zM156 540h1v1h-1zM156 548h1v1h-1zM156 552h1v1h-1zM156 556h1v1h-1zM156 560h1v1h-1zM156 569h1v1h-1zM156 573h1v1h-1zM156 577h1v1h-1zM156 581h1v1h-1zM156 585h1v1h-1zM156 589h1v1h-1zM156 593h1v1h-1zM156 597h1v1h-1zM156 601h1v1h-1zM261 528h1v1h-1zM261 532h1v1h-1zM261 536h1v1h-1zM261 540h1v1h-1zM261 548h1v1h-1zM261 552h1v1h-1zM261 556h1v1h-1zM261 560h1v1h-1zM261 569h1v1h-1zM261 573h1v1h-1zM261 577h1v1h-1zM261 581h1v1h-1zM261 585h1v1h-1zM261 589h1v1h-1zM261 593h1v1h-1zM261 597h1v1h-1zM261 601h1v1h-1zM366 528h1v1h-1zM366 532h1v1h-1zM366 536h1v1h-1zM366 540h1v1h-1zM366 548h1v1h-1zM366 552h1v1h-1zM366 556h1v1h-1zM366 560h1v1h-1zM366 569h1v1h-1zM366 573h1v1h-1zM366 577h1v1h-1zM366 581h1v1h-1zM366 585h1v1h-1zM366 589h1v1h-1zM366 593h1v1h-1zM366 597h1v1h-1zM366 601h1v1h-1zM471 528h1v1h-1zM471 532h1v1h-1zM471 536h1v1h-1zM471 540h1v1h-1zM471 548h1v1h-1zM471 552h1v1h-1zM471 556h1v1h-1zM471 560h1v1h-1zM471 569h1v1h-1zM471 573h1v1h-1zM471 577h1v1h-1zM471 581h1v1h-1zM471 585h1v1h-1zM471 589h1v1h-1zM471 593h1v1h-1zM471 597h1v1h-1zM471 601h1v1h-1zM576 528h1v1h-1zM576 532h1v1h-1zM576 536h1v1h-1zM576 540h1v1h-1zM576 548h1v1h-1zM576 552h1v1h-1zM576 556h1v1h-1zM576 560h1v1h-1zM576 569h1v1h-1zM576 573h1v1h-1zM576 577h1v1h-1zM576 581h1v1h-1zM576 585h1v1h-1zM576 589h1v1h-1zM576 593h1v1h-1zM576 597h1v1h-1zM576 601h1v1h-1zM681 528h1v1h-1zM681 532h1v1h-1zM681 536h1v1h-1zM681 540h1v1h-1zM681 548h1v1h-1zM681 552h1v1h-1zM681 556h1v1h-1zM681 560h1v1h-1zM681 569h1v1h-1zM681 573h1v1h-1zM681 577h1v1h-1zM681 581h1v1h-1zM681 585h1v1h-1zM681 589h1v1h-1zM681 593h1v1h-1zM681 597h1v1h-1zM681 601h1v1h-1zM786 528h1v1h-1zM786 532h1v1h-1zM786 536h1v1h-1zM786 540h1v1h-1zM786 548h1v1h-1zM786 552h1v1h-1zM786 556h1v1h-1zM786 560h1v1h-1zM786 569h1v1h-1zM786 573h1v1h-1zM786 577h1v1h-1zM786 581h1v1h-1zM786 585h1v1h-1zM786 589h1v1h-1zM786 593h1v1h-1zM786 597h1v1h-1zM786 601h1v1h-1zM891 528h1v1h-1zM891 532h1v1h-1zM891 536h1v1h-1zM891 540h1v1h-1zM891 548h1v1h-1zM891 552h1v1h-1zM891 556h1v1h-1zM891 560h1v1h-1zM891 569h1v1h-1zM891 573h1v1h-1zM891 577h1v1h-1zM891 581h1v1h-1zM891 585h1v1h-1zM891 589h1v1h-1zM891 593h1v1h-1zM891 597h1v1h-1zM891 601h1v1h-1zM996 528h1v1h-1zM996 532h1v1h-1zM996 536h1v1h-1zM996 540h1v1h-1zM996 548h1v1h-1zM996 552h1v1h-1zM996 556h1v1h-1zM996 560h1v1h-1zM996 569h1v1h-1zM996 573h1v1h-1zM996 577h1v1h-1zM996 581h1v1h-1zM996 585h1v1h-1zM996 589h1v1h-1zM996 593h1v1h-1zM996 597h1v1h-1zM996 601h1v1h-1zM1080 528h1v1h-1zM1080 532h1v1h-1zM1080 536h1v1h-1zM1080 540h1v1h-1zM1080 548h1v1h-1zM1080 552h1v1h-1zM1080 556h1v1h-1zM1080 560h1v1h-1zM1080 569h1v1h-1zM1080 573h1v1h-1zM1080 577h1v1h-1zM1080 581h1v1h-1zM1080 585h1v1h-1zM1080 589h1v1h-1zM1080 593h1v1h-1zM1080 597h1v1h-1zM1080 601h1v1h-1zM1 522h2v1h-2zM1 527h2v1h-2zM1 531h2v1h-2zM1 535h2v1h-2zM1 539h2v1h-2zM1 543h2v1h-2zM1 547h2v1h-2zM1 551h2v1h-2zM1 555h2v1h-2zM1 559h2v1h-2zM1 563h2v1h-2zM1 567h2v1h-2zM1 571h2v1h-2zM1 576h2v1h-2zM1 580h2v1h-2zM1 584h2v1h-2zM1 588h2v1h-2zM1 592h2v1h-2zM1 596h2v1h-2zM1 600h2v1h-2zM1 604h2v1h-2zM1 608h2v1h-2zM9 624h1v1h-1zM30 624h1v1h-1zM51 624h1v1h-1zM72 624h1v1h-1zM93 624h1v1h-1zM114 624h1v1h-1zM135 624h1v1h-1zM156 624h1v1h-1zM177 624h1v1h-1zM198 624h1v1h-1zM219 624h1v1h-1zM240 624h1v1h-1zM261 624h1v1h-1zM282 624h1v1h-1zM303 624h1v1h-1zM324 624h1v1h-1zM345 624h1v1h-1zM366 624h1v1h-1zM387 624h1v1h-1zM408 624h1v1h-1zM429 624h1v1h-1zM450 624h1v1h-1zM471 624h1v1h-1zM492 624h1v1h-1zM513 624h1v1h-1zM534 624h1v1h-1zM555 624h1v1h-1zM576 624h1v1h-1zM597 624h1v1h-1zM618 624h1v1h-1zM639 624h1v1h-1zM660 624h1v1h-1zM681 624h1v1h-1zM702 624h1v1h-1zM723 624h1v1h-1zM744 624h1v1h-1zM765 624h1v1h-1zM786 624h1v1h-1zM807 624h1v1h-1zM828 624h1v1h-1zM849 624h1v1h-1zM870 624h1v1h-1zM891 624h1v1h-1zM912 624h1v1h-1zM933 624h1v1h-1zM954 624h1v1h-1zM975 624h1v1h-1zM996 624h1v1h-1zM1017 624h1v1h-1zM1038 624h1v1h-1zM1059 624h1v1h-1zM1080 624h1v1h-1zM1101 624h1v1h-1zM1122 624h1v1h-1zM1143 624h1v1h-1zM1164 624h1v1h-1zM1185 624h1v1h-1zM9 644h1v1h-1zM30 644h1v1h-1zM51 644h1v1h-1zM72 644h1v1h-1zM93 644h1v1h-1zM114 644h1v1h-1zM135 644h1v1h-1zM156 644h1v1h-1zM177 644h1v1h-1zM198 644h1v1h-1zM219 644h1v1h-1zM240 644h1v1h-1zM261 644h1v1h-1zM282 644h1v1h-1zM303 644h1v1h-1zM324 644h1v1h-1zM345 644h1v1h-1zM366 644h1v1h-1zM387 644h1v1h-1zM408 644h1v1h-1zM429 644h1v1h-1zM450 644h1v1h-1zM471 644h1v1h-1zM492 644h1v1h-1zM513 644h1v1h-1zM534 644h1v1h-1zM555 644h1v1h-1zM576 644h1v1h-1zM597 644h1v1h-1zM618 644h1v1h-1zM639 644h1v1h-1zM660 644h1v1h-1zM681 644h1v1h-1zM702 644h1v1h-1zM723 644h1v1h-1zM744 644h1v1h-1zM765 644h1v1h-1zM786 644h1v1h-1zM807 644h1v1h-1zM828 644h1v1h-1zM849 644h1v1h-1zM870 644h1v1h-1zM891 644h1v1h-1zM912 644h1v1h-1zM933 644h1v1h-1zM954 644h1v1h-1zM975 644h1v1h-1zM996 644h1v1h-1zM1017 644h1v1h-1zM1038 644h1v1h-1zM1059 644h1v1h-1zM1080 644h1v1h-1zM1101 644h1v1h-1zM1122 644h1v1h-1zM1143 644h1v1h-1zM1164 644h1v1h-1zM1185 644h1v1h-1zM9 665h1v1h-1zM30 665h1v1h-1zM51 665h1v1h-1zM72 665h1v1h-1zM93 665h1v1h-1zM114 665h1v1h-1zM135 665h1v1h-1zM156 665h1v1h-1zM177 665h1v1h-1zM198 665h1v1h-1zM219 665h1v1h-1zM240 665h1v1h-1zM261 665h1v1h-1zM282 665h1v1h-1zM303 665h1v1h-1zM324 665h1v1h-1zM345 665h1v1h-1zM366 665h1v1h-1zM387 665h1v1h-1zM408 665h1v1h-1zM429 665h1v1h-1zM450 665h1v1h-1zM471 665h1v1h-1zM492 665h1v1h-1zM513 665h1v1h-1zM534 665h1v1h-1zM555 665h1v1h-1zM576 665h1v1h-1zM597 665h1v1h-1zM618 665h1v1h-1zM639 665h1v1h-1zM660 665h1v1h-1zM681 665h1v1h-1zM702 665h1v1h-1zM723 665h1v1h-1zM744 665h1v1h-1zM765 665h1v1h-1zM786 665h1v1h-1zM807 665h1v1h-1zM828 665h1v1h-1zM849 665h1v1h-1zM870 665h1v1h-1zM891 665h1v1h-1zM912 665h1v1h-1zM933 665h1v1h-1zM954 665h1v1h-1zM975 665h1v1h-1zM996 665h1v1h-1zM1017 665h1v1h-1zM1038 665h1v1h-1zM1059 665h1v1h-1zM1080 665h1v1h-1zM1101 665h1v1h-1zM1122 665h1v1h-1zM1143 665h1v1h-1zM1164 665h1v1h-1zM1185 665h1v1h-1zM9 685h1v1h-1zM30 685h1v1h-1zM51 685h1v1h-1zM72 685h1v1h-1zM93 685h1v1h-1zM114 685h1v1h-1zM135 685h1v1h-1zM156 685h1v1h-1zM177 685h1v1h-1zM198 685h1v1h-1zM219 685h1v1h-1zM240 685h1v1h-1zM261 685h1v1h-1zM282 685h1v1h-1zM303 685h1v1h-1zM324 685h1v1h-1zM345 685h1v1h-1zM366 685h1v1h-1zM387 685h1v1h-1zM408 685h1v1h-1zM429 685h1v1h-1zM450 685h1v1h-1zM471 685h1v1h-1zM492 685h1v1h-1zM513 685h1v1h-1zM534 685h1v1h-1zM555 685h1v1h-1zM576 685h1v1h-1zM597 685h1v1h-1zM618 685h1v1h-1zM639 685h1v1h-1zM660 685h1v1h-1zM681 685h1v1h-1zM702 685h1v1h-1zM723 685h1v1h-1zM744 685h1v1h-1zM765 685h1v1h-1zM786 685h1v1h-1zM807 685h1v1h-1zM828 685h1v1h-1zM849 685h1v1h-1zM870 685h1v1h-1zM891 685h1v1h-1zM912 685h1v1h-1zM933 685h1v1h-1zM954 685h1v1h-1zM975 685h1v1h-1zM996 685h1v1h-1zM1017 685h1v1h-1zM1038 685h1v1h-1zM1059 685h1v1h-1zM1080 685h1v1h-1zM1101 685h1v1h-1zM1122 685h1v1h-1zM1143 685h1v1h-1zM1164 685h1v1h-1zM1185 685h1v1h-1zM72 624h1v1h-1zM72 628h1v1h-1zM72 632h1v1h-1zM72 636h1v1h-1zM72 640h1v1h-1zM72 644h1v1h-1zM72 648h1v1h-1zM72 652h1v1h-1zM72 656h1v1h-1zM72 660h1v1h-1zM72 664h1v1h-1zM72 669h1v1h-1zM72 673h1v1h-1zM72 677h1v1h-1zM72 681h1v1h-1zM72 685h1v1h-1zM72 689h1v1h-1zM72 693h1v1h-1zM72 697h1v1h-1zM72 701h1v1h-1zM156 624h1v1h-1zM156 628h1v1h-1zM156 632h1v1h-1zM156 636h1v1h-1zM156 640h1v1h-1zM156 644h1v1h-1zM156 648h1v1h-1zM156 652h1v1h-1zM156 656h1v1h-1zM156 660h1v1h-1zM156 664h1v1h-1zM156 669h1v1h-1zM156 673h1v1h-1zM156 677h1v1h-1zM156 681h1v1h-1zM156 685h1v1h-1zM156 689h1v1h-1zM156 693h1v1h-1zM156 697h1v1h-1zM156 701h1v1h-1zM261 624h1v1h-1zM261 628h1v1h-1zM261 632h1v1h-1zM261 636h1v1h-1zM261 640h1v1h-1zM261 644h1v1h-1zM261 648h1v1h-1zM261 652h1v1h-1zM261 656h1v1h-1zM261 660h1v1h-1zM261 664h1v1h-1zM261 669h1v1h-1zM261 673h1v1h-1zM261 677h1v1h-1zM261 681h1v1h-1zM261 685h1v1h-1zM261 689h1v1h-1zM261 693h1v1h-1zM261 697h1v1h-1zM261 701h1v1h-1zM366 624h1v1h-1zM366 628h1v1h-1zM366 632h1v1h-1zM366 636h1v1h-1zM366 640h1v1h-1zM366 644h1v1h-1zM366 648h1v1h-1zM366 652h1v1h-1zM366 656h1v1h-1zM366 660h1v1h-1zM366 664h1v1h-1zM366 669h1v1h-1zM366 673h1v1h-1zM366 677h1v1h-1zM366 681h1v1h-1zM366 685h1v1h-1zM366 689h1v1h-1zM366 693h1v1h-1zM366 697h1v1h-1zM366 701h1v1h-1zM471 624h1v1h-1zM471 628h1v1h-1zM471 632h1v1h-1zM471 636h1v1h-1zM471 640h1v1h-1zM471 644h1v1h-1zM471 648h1v1h-1zM471 652h1v1h-1zM471 656h1v1h-1zM471 660h1v1h-1zM471 664h1v1h-1zM471 669h1v1h-1zM471 673h1v1h-1zM471 677h1v1h-1zM471 681h1v1h-1zM471 685h1v1h-1zM471 689h1v1h-1zM471 693h1v1h-1zM471 697h1v1h-1zM471 701h1v1h-1zM576 624h1v1h-1zM576 628h1v1h-1zM576 632h1v1h-1zM576 636h1v1h-1zM576 640h1v1h-1zM576 644h1v1h-1zM576 648h1v1h-1zM576 652h1v1h-1zM576 656h1v1h-1zM576 660h1v1h-1zM576 664h1v1h-1zM576 669h1v1h-1zM576 673h1v1h-1zM576 677h1v1h-1zM576 681h1v1h-1zM576 685h1v1h-1zM576 689h1v1h-1zM576 693h1v1h-1zM576 697h1v1h-1zM576 701h1v1h-1zM681 624h1v1h-1zM681 628h1v1h-1zM681 632h1v1h-1zM681 636h1v1h-1zM681 640h1v1h-1zM681 644h1v1h-1zM681 648h1v1h-1zM681 652h1v1h-1zM681 656h1v1h-1zM681 660h1v1h-1zM681 664h1v1h-1zM681 669h1v1h-1zM681 673h1v1h-1zM681 677h1v1h-1zM681 681h1v1h-1zM681 685h1v1h-1zM681 689h1v1h-1zM681 693h1v1h-1zM681 697h1v1h-1zM681 701h1v1h-1zM786 624h1v1h-1zM786 628h1v1h-1zM786 632h1v1h-1zM786 636h1v1h-1zM786 640h1v1h-1zM786 644h1v1h-1zM786 648h1v1h-1zM786 652h1v1h-1zM786 656h1v1h-1zM786 660h1v1h-1zM786 664h1v1h-1zM786 669h1v1h-1zM786 673h1v1h-1zM786 677h1v1h-1zM786 681h1v1h-1zM786 685h1v1h-1zM786 689h1v1h-1zM786 693h1v1h-1zM786 697h1v1h-1zM786 701h1v1h-1zM891 624h1v1h-1zM891 628h1v1h-1zM891 632h1v1h-1zM891 636h1v1h-1zM891 640h1v1h-1zM891 644h1v1h-1zM891 648h1v1h-1zM891 652h1v1h-1zM891 656h1v1h-1zM891 660h1v1h-1zM891 664h1v1h-1zM891 669h1v1h-1zM891 673h1v1h-1zM891 677h1v1h-1zM891 681h1v1h-1zM891 685h1v1h-1zM891 689h1v1h-1zM891 693h1v1h-1zM891 697h1v1h-1zM891 701h1v1h-1zM996 624h1v1h-1zM996 628h1v1h-1zM996 632h1v1h-1zM996 636h1v1h-1zM996 640h1v1h-1zM996 644h1v1h-1zM996 648h1v1h-1zM996 652h1v1h-1zM996 656h1v1h-1zM996 660h1v1h-1zM996 664h1v1h-1zM996 669h1v1h-1zM996 673h1v1h-1zM996 677h1v1h-1zM996 681h1v1h-1zM996 685h1v1h-1zM996 689h1v1h-1zM996 693h1v1h-1zM996 697h1v1h-1zM996 701h1v1h-1zM1080 624h1v1h-1zM1080 628h1v1h-1zM1080 632h1v1h-1zM1080 636h1v1h-1zM1080 640h1v1h-1zM1080 644h1v1h-1zM1080 648h1v1h-1zM1080 652h1v1h-1zM1080 656h1v1h-1zM1080 660h1v1h-1zM1080 664h1v1h-1zM1080 669h1v1h-1zM1080 673h1v1h-1zM1080 677h1v1h-1zM1080 681h1v1h-1zM1080 685h1v1h-1zM1080 689h1v1h-1zM1080 693h1v1h-1zM1080 697h1v1h-1zM1080 701h1v1h-1zM1 705h2v1h-2zM1 701h2v1h-2zM1 697h2v1h-2zM1 693h2v1h-2zM1 689h2v1h-2zM1 685h2v1h-2zM1 681h2v1h-2zM1 677h2v1h-2zM1 673h2v1h-2zM1 669h2v1h-2zM1 665h2v1h-2zM1 661h2v1h-2zM1 657h2v1h-2zM1 653h2v1h-2zM1 649h2v1h-2zM1 645h2v1h-2zM1 640h2v1h-2zM1 636h2v1h-2zM1 632h2v1h-2zM1 628h2v1h-2zM1 624h2v1h-2zM1 620h2v1h-2zM1 616h2v1h-2zM72 729h1v1h-1zM72 735h1v1h-1zM72 746h1v1h-1zM72 752h1v1h-1zM72 758h1v1h-1zM72 764h1v1h-1zM72 776h1v1h-1zM72 781h1v1h-1zM72 787h1v1h-1zM72 793h1v1h-1zM72 804h1v1h-1zM72 810h1v1h-1zM72 816h1v1h-1zM156 729h1v1h-1zM156 735h1v1h-1zM156 746h1v1h-1zM156 752h1v1h-1zM156 758h1v1h-1zM156 764h1v1h-1zM156 776h1v1h-1zM156 781h1v1h-1zM156 787h1v1h-1zM156 793h1v1h-1zM156 804h1v1h-1zM156 810h1v1h-1zM156 816h1v1h-1zM261 729h1v1h-1zM261 735h1v1h-1zM261 746h1v1h-1zM261 752h1v1h-1zM261 758h1v1h-1zM261 764h1v1h-1zM261 776h1v1h-1zM261 781h1v1h-1zM261 787h1v1h-1zM261 793h1v1h-1zM261 804h1v1h-1zM261 810h1v1h-1zM261 816h1v1h-1zM366 729h1v1h-1zM366 735h1v1h-1zM366 746h1v1h-1zM366 752h1v1h-1zM366 758h1v1h-1zM366 764h1v1h-1zM366 776h1v1h-1zM366 781h1v1h-1zM366 787h1v1h-1zM366 793h1v1h-1zM366 804h1v1h-1zM366 810h1v1h-1zM366 816h1v1h-1zM471 729h1v1h-1zM471 735h1v1h-1zM471 746h1v1h-1zM471 752h1v1h-1zM471 758h1v1h-1zM471 764h1v1h-1zM471 776h1v1h-1zM471 781h1v1h-1zM471 787h1v1h-1zM471 793h1v1h-1zM471 804h1v1h-1zM471 810h1v1h-1zM471 816h1v1h-1zM576 729h1v1h-1zM576 735h1v1h-1zM576 746h1v1h-1zM576 752h1v1h-1zM576 758h1v1h-1zM576 764h1v1h-1zM576 776h1v1h-1zM576 781h1v1h-1zM576 787h1v1h-1zM576 793h1v1h-1zM576 804h1v1h-1zM576 810h1v1h-1zM576 816h1v1h-1zM681 729h1v1h-1zM681 735h1v1h-1zM681 746h1v1h-1zM681 752h1v1h-1zM681 758h1v1h-1zM681 764h1v1h-1zM681 776h1v1h-1zM681 781h1v1h-1zM681 787h1v1h-1zM681 793h1v1h-1zM681 804h1v1h-1zM681 810h1v1h-1zM681 816h1v1h-1zM786 729h1v1h-1zM786 735h1v1h-1zM786 746h1v1h-1zM786 752h1v1h-1zM786 758h1v1h-1zM786 764h1v1h-1zM786 776h1v1h-1zM786 781h1v1h-1zM786 787h1v1h-1zM786 793h1v1h-1zM786 804h1v1h-1zM786 810h1v1h-1zM786 816h1v1h-1zM891 729h1v1h-1zM891 735h1v1h-1zM891 746h1v1h-1zM891 752h1v1h-1zM891 758h1v1h-1zM891 764h1v1h-1zM891 776h1v1h-1zM891 781h1v1h-1zM891 787h1v1h-1zM891 793h1v1h-1zM891 804h1v1h-1zM891 810h1v1h-1zM891 816h1v1h-1zM996 729h1v1h-1zM996 735h1v1h-1zM996 746h1v1h-1zM996 752h1v1h-1zM996 758h1v1h-1zM996 764h1v1h-1zM996 776h1v1h-1zM996 781h1v1h-1zM996 787h1v1h-1zM996 793h1v1h-1zM996 804h1v1h-1zM996 810h1v1h-1zM996 816h1v1h-1zM1080 729h1v1h-1zM1080 735h1v1h-1zM1080 746h1v1h-1zM1080 752h1v1h-1zM1080 758h1v1h-1zM1080 764h1v1h-1zM1080 776h1v1h-1zM1080 781h1v1h-1zM1080 787h1v1h-1zM1080 793h1v1h-1zM1080 804h1v1h-1zM1080 810h1v1h-1zM1080 816h1v1h-1zM1 729h2v1h-2zM1 735h2v1h-2zM1 741h2v1h-2zM1 746h2v1h-2zM1 752h2v1h-2zM1 758h2v1h-2zM1 764h2v1h-2zM1 770h2v1h-2zM1 776h2v1h-2zM1 781h2v1h-2zM1 787h2v1h-2zM1 793h2v1h-2zM1 799h2v1h-2zM1 804h2v1h-2zM1 810h2v1h-2zM1 816h2v1h-2z" fill="#000"/>
<g shape-rendering="crispEdges">
<line x1="1" y1="434.5" x2="1215" y2="434.5" stroke="#e00000" stroke-width="1" stroke-dasharray="4,2"/>
<line x1="1" y1="486.5" x2="1215" y2="486.5" stroke="#0000e0" stroke-width="1" stroke-dasharray="4,2"/>
</g>
<g shape-rendering="crispEdges">
<polyline points="0.5,470.9 9.5,474.7 30.5,483.7 51.5,488.0 72.5,493.8 93.5,496.1 114.5,494.8 135.5,493.1 156.5,486.0 177.5,476.9 198.5,475.9 219.5,484.0 240.5,495.6 261.5,496.9 282.5,500.6 303.5,500.9 324.5,498.9 345.5,496.4 366.5,494.6 387.5,494.6 408.5,495.9 429.5,495.3 450.5,493.8 471.5,490.8 492.5,488.8 513.5,485.3 534.5,476.2 555.5,469.4 576.5,464.3 597.5,463.5 618.5,464.3 639.5,466.8 660.5,471.1 681.5,482.7 702.5,490.3 723.5,485.3 744.5,480.7 765.5,475.2 786.5,475.2 807.5,476.9 828.5,479.4 849.5,483.2 870.5,489.5 891.5,495.3 912.5,497.9 933.5,497.9 954.5,495.9 975.5,492.1 996.5,485.8 1017.5,479.4 1038.5,476.2 1059.5,478.7 1080.5,479.4 1101.5,471.1 1122.5,456.7 1143.5,435.3" fill="none" stroke="#ff0000" stroke-width="1" />
<polyline points="0.5,463.5 9.5,466.6 30.5,475.4 51.5,483.0 72.5,488.0 93.5,492.3 114.5,493.8 135.5,490.0 156.5,484.0 177.5,476.7 198.5,475.4 219.5,480.5 240.5,489.3 261.5,494.3 282.5,499.4 303.5,500.4 324.5,496.4 345.5,493.8 366.5,493.3 387.5,493.8 408.5,494.6 429.5,493.8 450.5,492.8 471.5,488.8 492.5,487.0 513.5,476.9 534.5,469.4 555.5,463.5 576.5,459.3 597.5,462.5 618.5,463.0 639.5,465.1 660.5,468.1 681.5,472.6 702.5,480.2 723.5,486.3 744.5,482.7 765.5,475.7 786.5,473.1 807.5,473.6 828.5,476.9 849.5,480.7 870.5,488.3 891.5,494.6 912.5,497.1 933.5,496.4 954.5,490.8 975.5,483.7 996.5,477.7 1017.5,475.7 1038.5,476.9 1059.5,481.2 1080.5,478.7 1101.5,454.2 1122.5,432.8 1143.5,418.9" fill="none" stroke="#ff0000" stroke-width="1" />
<polyline points="0.5,461.5 9.5,467.8 30.5,492.3 51.5,494.8 72.5,496.6 93.5,496.9 114.5,496.1 135.5,492.1 156.5,485.0 177.5,476.9 198.5,475.4 219.5,478.9 240.5,487.0 261.5,493.1 282.5,498.9 303.5,500.9 324.5,498.4 345.5,492.1 366.5,489.5 387.5,489.5 408.5,490.3 429.5,488.8 450.5,487.0 471.5,485.3 492.5,480.7 513.5,468.1 534.5,456.7 555.5,447.4 576.5,437.3 597.5,434.8 618.5,441.6 639.5,451.7 660.5,466.8 681.5,483.2 702.5,492.1 723.5,485.8 744.5,478.7 765.5,475.2 786.5,475.2 807.5,478.7 828.5,482.7 849.5,487.0 870.5,492.8 891.5,497.1 912.5,497.9 933.5,497.9 954.5,487.0 975.5,476.2 996.5,464.3 1017.5,452.4 1038.5,445.9 1059.5,456.7 1080.5,459.3 1101.5,451.7 1122.5,440.3 1143.5,428.2" fill="none" stroke="#ff9000" stroke-width="1" />
<polyline points="0.5,447.4 9.5,450.2 30.5,467.3 51.5,481.7 72.5,493.8 93.5,496.9 114.5,495.6 135.5,488.0 156.5,475.4 177.5,470.4 198.5,474.7 219.5,477.2 240.5,485.5 261.5,492.3 282.5,497.9 303.5,500.9 324.5,493.3 345.5,488.3 366.5,488.3 387.5,488.8 408.5,488.8 429.5,488.3 450.5,485.8 471.5,480.7 492.5,474.4 513.5,460.0 534.5,447.9 555.5,437.8 576.5,428.2 597.5,434.8 618.5,435.3 639.5,442.4 660.5,452.4 681.5,468.1 702.5,483.2 723.5,485.8 744.5,472.6 765.5,472.6 786.5,472.6 807.5,476.9 828.5,479.4 849.5,483.2 870.5,489.5 891.5,495.3 912.5,497.9 933.5,495.9 954.5,478.2 975.5,463.5 996.5,448.4 1017.5,441.6 1038.5,444.9 1059.5,450.4 1080.5,453.5 1101.5,442.9 1122.5,429.0 1143.5,418.1" fill="none" stroke="#ff9000" stroke-width="1" />
<polyline points="0.5,469.9 9.5,475.4 30.5,493.1 51.5,494.3 72.5,496.9 93.5,494.8 114.5,493.8 135.5,481.7 156.5,469.1 177.5,460.3 198.5,468.3 219.5,475.9 240.5,486.0 261.5,487.3 282.5,496.1 303.5,502.2 324.5,494.6 345.5,480.2 366.5,478.2 387.5,478.2 408.5,480.7 429.5,470.1 450.5,463.5 471.5,447.4 492.5,445.9 513.5,432.3 534.5,433.3 555.5,427.7 576.5,427.2 597.5,445.4 618.5,451.7 639.5,470.1 660.5,480.7 681.5,493.3 702.5,493.8 723.5,484.5 744.5,471.1 765.5,469.4 786.5,469.4 807.5,465.6 828.5,465.1 849.5,471.9 870.5,485.3 891.5,492.1 912.5,493.3 933.5,488.3 954.5,472.6 975.5,452.9 996.5,431.5 1017.5,424.7 1038.5,434.8 1059.5,452.4 1080.5,458.0 1101.5,442.9 1122.5,429.7 1143.5,422.2" fill="none" stroke="#008000" stroke-width="1" />
<polyline points="0.5,494.8 9.5,497.6 30.5,493.1 51.5,494.8 72.5,500.6 93.5,493.1 114.5,486.8 135.5,463.3 156.5,454.0 177.5,462.0 198.5,488.0 219.5,476.7 240.5,487.3 261.5,499.4 282.5,501.9 303.5,502.2 324.5,480.7 345.5,460.0 366.5,493.3 387.5,478.2 408.5,466.8 429.5,461.8 450.5,458.5 471.5,419.6 492.5,459.3 513.5,419.6 534.5,422.2 555.5,438.3 576.5,417.1 597.5,470.1 618.5,466.8 639.5,468.1 660.5,503.4 681.5,505.4 702.5,473.1 723.5,476.2 744.5,462.5 765.5,468.6 786.5,466.8 807.5,458.5 828.5,465.6 849.5,490.3 870.5,500.4 891.5,489.5 912.5,490.8 933.5,480.7 954.5,442.9 975.5,429.7 996.5,419.6 1017.5,423.2 1038.5,464.3 1059.5,466.1 1080.5,444.9 1101.5,414.6 1122.5,423.9 1143.5,420.6" fill="none" stroke="#008000" stroke-width="1" />
</g>
<g shape-rendering="crispEdges"><rect x="25" y="523" width="11" height="1" fill="#008000"/><rect x="46" y="523" width="11" height="3" fill="#008000"/><rect x="67" y="523" width="11" height="6" fill="#008000"/><rect x="88" y="523" width="11" height="11" fill="#008000"/><rect x="109" y="523" width="11" height="12" fill="#008000"/><rect x="130" y="523" width="11" height="11" fill="#008000"/><rect x="151" y="523" width="11" height="8" fill="#008000"/><rect x="172" y="523" width="11" height="7" fill="#008000"/><rect x="193" y="523" width="11" height="9" fill="#008000"/><rect x="214" y="523" width="11" height="9" fill="#008000"/><rect x="235" y="523" width="11" height="9" fill="#008000"/><rect x="256" y="523" width="11" height="9" fill="#008000"/><rect x="277" y="523" width="11" height="11" fill="#008000"/><rect x="298" y="523" width="11" height="14" fill="#008000"/><rect x="319" y="523" width="11" height="12" fill="#008000"/><rect x="340" y="523" width="11" height="9" fill="#008000"/><rect x="361" y="523" width="11" height="9" fill="#008000"/><rect x="382" y="523" width="11" height="7" fill="#008000"/><rect x="403" y="523" width="11" height="4" fill="#008000"/><rect x="424" y="523" width="11" height="2" fill="#008000"/><rect x="466" y="519" width="11" height="4" fill="#008000"/><rect x="487" y="518" width="11" height="5" fill="#008000"/><rect x="508" y="514" width="11" height="9" fill="#008000"/><rect x="529" y="514" width="11" height="9" fill="#008000"/><rect x="550" y="514" width="11" height="9" fill="#008000"/><rect x="571" y="514" width="11" height="9" fill="#008000"/><rect x="592" y="514" width="11" height="9" fill="#008000"/><rect x="613" y="514" width="11" height="9" fill="#008000"/><rect x="634" y="514" width="11" height="9" fill="#008000"/><rect x="655" y="517" width="11" height="6" fill="#008000"/><rect x="718" y="523" width="11" height="1" fill="#008000"/><rect x="844" y="523" width="11" height="1" fill="#008000"/><rect x="865" y="523" width="11" height="2" fill="#008000"/><rect x="886" y="523" width="11" height="1" fill="#008000"/><rect x="907" y="523" width="11" height="1" fill="#008000"/><rect x="949" y="520" width="11" height="3" fill="#008000"/><rect x="970" y="518" width="11" height="5" fill="#008000"/><rect x="991" y="516" width="11" height="7" fill="#008000"/><rect x="1012" y="514" width="11" height="9" fill="#008000"/><rect x="1033" y="516" width="11" height="7" fill="#008000"/><rect x="1054" y="517" width="11" height="6" fill="#008000"/><rect x="1075" y="516" width="11" height="7" fill="#008000"/><rect x="1096" y="514" width="11" height="9" fill="#008000"/><rect x="1117" y="514" width="11" height="9" fill="#008000"/><rect x="1138" y="514" width="11" height="9" fill="#008000"/></g>
<polyline points="0.0,542.3 20.5,543.5 72.5,553.6 93.5,562.5 114.5,566.3 135.5,567.0 156.5,565.8 177.5,567.0 198.5,572.6 219.5,574.6 240.5,577.1 261.5,579.6 282.5,583.2 303.5,590.2 324.5,591.0 345.5,590.2 366.5,593.3 387.5,593.3 408.5,591.5 429.5,589.0 450.5,587.2 471.5,581.4 492.5,578.9 513.5,573.8 534.5,565.8 555.5,562.5 576.5,556.2 597.5,553.6 618.5,551.9 639.5,550.4 660.5,553.6 681.5,559.4 702.5,561.2 723.5,562.5 744.5,561.5 765.5,561.5 786.5,561.5 807.5,561.5 828.5,561.5 849.5,563.2 870.5,564.5 891.5,564.5 912.5,564.2 933.5,562.5 954.5,558.7 975.5,556.2 996.5,551.1 1017.5,548.6 1038.5,547.3 1059.5,546.1 1080.5,544.3 1101.5,537.2 1122.5,532.2 1143.5,525.1" fill="none" stroke="#1020ff" stroke-width="1" shape-rendering="crispEdges"/>
<polyline points="0.0,544.3 72.5,547.3 93.5,550.4 114.5,553.1 135.5,556.2 156.5,558.7 177.5,560.5 198.5,562.5 219.5,565.0 240.5,567.0 261.5,569.5 282.5,573.0 303.5,577.1 324.5,578.9 345.5,581.4 366.5,583.4 387.5,585.7 408.5,586.5 429.5,587.2 450.5,587.2 471.5,586.5 492.5,584.7 513.5,582.7 534.5,578.9 555.5,575.6 576.5,572.1 597.5,568.8 618.5,565.0 639.5,562.5 660.5,560.5 681.5,560.0 702.5,561.5 723.5,561.5 744.5,561.5 765.5,561.5 786.5,561.5 807.5,561.5 828.5,561.5 849.5,561.5 870.5,562.5 891.5,563.0 912.5,563.5 933.5,563.2 954.5,561.7 975.5,560.5 996.5,558.7 1017.5,557.0 1038.5,555.4 1059.5,553.6 1080.5,551.1 1101.5,548.6 1122.5,544.8 1143.5,541.0" fill="none" stroke="#ff2020" stroke-width="1" shape-rendering="crispEdges"/>
<rect x="1" y="706" width="1214" height="1" fill="#808080" shape-rendering="crispEdges"/>
<g shape-rendering="crispEdges">
<polyline points="0.0,703.3 9.5,703.3 30.5,692.5 51.5,698.8 72.5,701.3 93.5,703.3 114.5,703.9 135.5,704.6 156.5,704.6 177.5,703.3 198.5,703.5 219.5,703.6 240.5,703.8 261.5,703.9 282.5,705.0 303.5,705.0 324.5,705.0 345.5,695.0 366.5,699.3 387.5,701.8 408.5,694.3 429.5,695.5 450.5,700.0 471.5,663.5 492.5,673.6 513.5,679.9 534.5,672.3 555.5,683.7 576.5,692.5 597.5,697.5 618.5,700.8 639.5,695.0 660.5,698.8 681.5,702.6 702.5,702.6 723.5,686.2 744.5,693.8 765.5,693.0 786.5,698.8 807.5,701.3 828.5,689.2 849.5,695.0 870.5,698.8 891.5,702.6 912.5,702.6 933.5,693.8 954.5,678.1 975.5,667.3 996.5,656.4 1017.5,676.6 1038.5,687.4 1059.5,694.5 1080.5,691.7 1101.5,664.0 1122.5,662.7 1143.5,664.2" fill="none" stroke="#0000ff" stroke-width="2.2"/>
<polyline points="0.0,679.9 9.5,680.6 30.5,690.7 51.5,679.9 72.5,677.4 93.5,661.0 114.5,678.6 135.5,677.4 156.5,688.2 177.5,695.0 198.5,673.6 219.5,669.8 240.5,684.9 261.5,688.2 282.5,674.8 303.5,660.2 324.5,672.3 345.5,685.7 366.5,688.0 387.5,693.8 408.5,698.3 429.5,701.8 450.5,674.0 471.5,687.4 492.5,694.3 513.5,699.6 534.5,701.3 555.5,703.3 576.5,703.3 597.5,695.0 618.5,693.8 639.5,698.0 660.5,660.4 681.5,657.9 702.5,671.0 723.5,684.4 744.5,689.2 765.5,695.0 786.5,678.6 807.5,689.5 828.5,695.0 849.5,682.4 870.5,682.4 891.5,691.7 912.5,691.7 933.5,697.5 954.5,700.8 975.5,701.8 996.5,703.9 1017.5,695.0 1038.5,680.6 1059.5,682.4 1080.5,691.7 1101.5,698.3 1122.5,701.3 1143.5,702.6" fill="none" stroke="#ff0000" stroke-width="2.2"/>
<polyline points="0.0,657.2 9.5,652.1 30.5,671.0 51.5,667.3 72.5,659.2 93.5,649.1 114.5,643.3 135.5,637.5 156.5,634.5 177.5,644.0 198.5,638.7 219.5,635.7 240.5,635.7 261.5,635.7 282.5,632.7 303.5,630.2 324.5,628.6 345.5,649.6 366.5,657.9 387.5,661.5 408.5,669.8 429.5,669.8 450.5,662.2 471.5,666.8 492.5,666.8 513.5,664.0 534.5,653.9 555.5,647.8 576.5,645.3 597.5,666.0 618.5,666.0 639.5,675.6 660.5,662.2 681.5,652.1 702.5,645.0 723.5,666.8 744.5,678.6 765.5,682.9 786.5,673.6 807.5,668.0 828.5,674.3 849.5,674.3 870.5,667.3 891.5,664.2 912.5,656.4 933.5,671.0 954.5,663.5 975.5,653.4 996.5,643.8 1017.5,651.4 1038.5,667.3 1059.5,671.0 1080.5,684.4 1101.5,671.5 1122.5,659.7 1143.5,648.8" fill="none" stroke="#008000" stroke-width="2.2"/>
</g>
<g shape-rendering="crispEdges">
<line x1="1" y1="741.5" x2="1215" y2="741.5" stroke="#e00000" stroke-width="1" stroke-dasharray="4,2"/>
<rect x="1" y="770" width="1214" height="1" fill="#0000e0"/>
<line x1="1" y1="798.5" x2="1215" y2="798.5" stroke="#0000e0" stroke-width="1" stroke-dasharray="4,2"/>
</g>
<polyline points="0.0,783.4 9.5,784.2 30.5,782.1 51.5,787.2 72.5,792.2 93.5,799.3 114.5,793.5 135.5,787.2 156.5,781.4 177.5,785.4 198.5,794.3 219.5,791.5 240.5,794.3 261.5,796.5 282.5,801.1 303.5,805.4 324.5,792.2 345.5,789.2 366.5,796.0 387.5,789.8 408.5,785.4 429.5,787.2 450.5,786.5 471.5,774.6 492.5,780.1 513.5,768.3 534.5,765.7 555.5,770.0 576.5,763.7 597.5,774.1 618.5,773.3 639.5,774.6 660.5,785.4 681.5,796.0 702.5,782.1 723.5,782.1 744.5,778.4 765.5,780.9 786.5,784.2 807.5,782.9 828.5,785.2 849.5,789.0 870.5,792.2 891.5,788.0 912.5,788.5 933.5,784.2 954.5,771.5 975.5,771.5 996.5,764.5 1017.5,765.7 1038.5,778.4 1059.5,778.4 1080.5,770.3 1101.5,751.4 1122.5,750.6 1143.5,745.0" fill="none" stroke="#1030ff" stroke-width="1" shape-rendering="crispEdges"/>
<g shape-rendering="crispEdges"><rect x="0" y="0" width="1268" height="1" fill="#000"/><rect x="0" y="0" width="1" height="822" fill="#000"/><rect x="0" y="404" width="1268" height="2" fill="#000"/><rect x="0" y="512" width="1268" height="2" fill="#000"/><rect x="0" y="613" width="1268" height="2" fill="#000"/><rect x="0" y="715" width="1268" height="2" fill="#000"/><rect x="0" y="818" width="1216" height="1" fill="#000"/><rect x="0" y="821" width="1216" height="1" fill="#000"/><rect x="1215" y="0" width="1" height="822" fill="#000"/><rect x="1267" y="0" width="1" height="819" fill="#000"/></g>
<path d="M1210 20h5v1h-5zM1212 45h3v1h-3zM1212 71h3v1h-3zM1212 96h3v1h-3zM1212 121h3v1h-3zM1210 146h5v1h-5zM1212 172h3v1h-3zM1212 197h3v1h-3zM1212 222h3v1h-3zM1212 248h3v1h-3zM1210 273h5v1h-5zM1212 298h3v1h-3zM1212 323h3v1h-3zM1212 349h3v1h-3zM1212 374h3v1h-3zM1210 399h5v1h-5z" fill="#000"/>
<defs><pattern id="porange" width="2" height="2" patternUnits="userSpaceOnUse"><rect width="2" height="2" fill="#ff6a00"/><rect width="1" height="1" fill="#ffc030"/><rect x="1" y="1" width="1" height="1" fill="#ffc030"/></pattern><pattern id="ppink" width="2" height="2" patternUnits="userSpaceOnUse"><rect width="2" height="2" fill="#a8a8a8"/><rect width="1" height="1" fill="#e060a0"/><rect x="1" y="1" width="1" height="1" fill="#e878a8"/></pattern><pattern id="pblue" width="2" height="2" patternUnits="userSpaceOnUse"><rect width="2" height="2" fill="#0000d0"/><rect width="1" height="1" fill="#000090"/></pattern></defs>
<text x="1265.3" y="24.0" text-anchor="end" font-family="Liberation Sans" font-weight="bold" font-size="10.6" stroke-width="0.3" fill="#000" stroke="#000">6000.00</text>
<text x="1265.3" y="150.0" text-anchor="end" font-family="Liberation Sans" font-weight="bold" font-size="10.6" stroke-width="0.3" fill="#000" stroke="#000">5500.00</text>
<text x="1265.3" y="277.0" text-anchor="end" font-family="Liberation Sans" font-weight="bold" font-size="10.6" stroke-width="0.3" fill="#000" stroke="#000">5000.00</text>
<rect x="1216" y="24" width="52" height="12" fill="#000" shape-rendering="crispEdges"/>
<rect x="1216" y="25" width="50" height="10" fill="#00ff00" shape-rendering="crispEdges"/>
<svg x="1216" y="25" width="50" height="10" overflow="hidden"><text x="49.3" y="9.0" text-anchor="end" font-family="Liberation Sans" font-weight="bold" font-size="10.6" stroke-width="0.3" fill="#fff" stroke="#fff">5963.77</text></svg>
<rect x="1216" y="155" width="52" height="7" fill="#000" shape-rendering="crispEdges"/>
<rect x="1216" y="156" width="50" height="5" fill="url(#porange)" shape-rendering="crispEdges"/>
<svg x="1216" y="156" width="50" height="5" overflow="hidden"><text x="49.3" y="5.0" text-anchor="end" font-family="Liberation Sans" font-weight="bold" font-size="10.6" stroke-width="0.3" fill="#000" stroke="#000">5443.66</text></svg>
<rect x="1216" y="161" width="52" height="12" fill="#000" shape-rendering="crispEdges"/>
<rect x="1216" y="162" width="50" height="10" fill="#0000e0" shape-rendering="crispEdges"/>
<svg x="1216" y="162" width="50" height="10" overflow="hidden"><text x="49.3" y="9.0" text-anchor="end" font-family="Liberation Sans" font-weight="bold" font-size="10.6" stroke-width="0.3" fill="#fff" stroke="#fff">5422.00</text></svg>
<rect x="1216" y="179" width="52" height="12" fill="#000" shape-rendering="crispEdges"/>
<rect x="1216" y="180" width="50" height="10" fill="#000000" shape-rendering="crispEdges"/>
<svg x="1216" y="180" width="50" height="10" overflow="hidden"><text x="49.3" y="9.0" text-anchor="end" font-family="Liberation Sans" font-weight="bold" font-size="10.6" stroke-width="0.3" fill="#fff" stroke="#fff">5350.00</text></svg>
<rect x="1216" y="198" width="52" height="12" fill="#000" shape-rendering="crispEdges"/>
<rect x="1216" y="199" width="50" height="10" fill="#0000e0" shape-rendering="crispEdges"/>
<svg x="1216" y="199" width="50" height="10" overflow="hidden"><text x="49.3" y="9.0" text-anchor="end" font-family="Liberation Sans" font-weight="bold" font-size="10.6" stroke-width="0.3" fill="#fff" stroke="#fff">5277.00</text></svg>
<rect x="1216" y="209" width="52" height="9" fill="#000" shape-rendering="crispEdges"/>
<rect x="1216" y="210" width="50" height="7" fill="url(#ppink)" shape-rendering="crispEdges"/>
<svg x="1216" y="210" width="50" height="7" overflow="hidden"><text x="49.3" y="6.0" text-anchor="end" font-family="Liberation Sans" font-weight="bold" font-size="10.6" stroke-width="0.3" fill="#444" stroke="#444">5246.03</text></svg>
<rect x="1216" y="290" width="52" height="4" fill="#000" shape-rendering="crispEdges"/>
<rect x="1216" y="291" width="50" height="2" fill="#b00000" shape-rendering="crispEdges"/>
<svg x="1216" y="291" width="50" height="2" overflow="hidden"><text x="49.3" y="8.0" text-anchor="end" font-family="Liberation Sans" font-weight="bold" font-size="10.6" stroke-width="0.3" fill="#fff" stroke="#fff">4943.12</text></svg>
<rect x="1216" y="279" width="52" height="12" fill="#000" shape-rendering="crispEdges"/>
<rect x="1216" y="280" width="50" height="10" fill="#ff0000" shape-rendering="crispEdges"/>
<svg x="1216" y="280" width="50" height="10" overflow="hidden"><text x="49.3" y="9.0" text-anchor="end" font-family="Liberation Sans" font-weight="bold" font-size="10.6" stroke-width="0.3" fill="#fff" stroke="#fff">4955.00</text></svg>
<rect x="1216" y="332" width="52" height="12" fill="#000" shape-rendering="crispEdges"/>
<rect x="1216" y="333" width="50" height="10" fill="#0000e0" shape-rendering="crispEdges"/>
<svg x="1216" y="333" width="50" height="10" overflow="hidden"><text x="49.3" y="9.0" text-anchor="end" font-family="Liberation Sans" font-weight="bold" font-size="10.6" stroke-width="0.3" fill="#fff" stroke="#fff">4747.00</text></svg>
<rect x="1216" y="348" width="52" height="13" fill="#000" shape-rendering="crispEdges"/>
<rect x="1216" y="349" width="50" height="11" fill="#0000e0" shape-rendering="crispEdges"/>
<svg x="1216" y="349" width="50" height="11" overflow="hidden"><text x="49.3" y="10.0" text-anchor="end" font-family="Liberation Sans" font-weight="bold" font-size="10.6" stroke-width="0.3" fill="#fff" stroke="#fff">4680.00</text></svg>
<rect x="1216" y="399" width="52" height="7" fill="#000" shape-rendering="crispEdges"/>
<rect x="1216" y="400" width="50" height="5" fill="url(#ppink)" shape-rendering="crispEdges"/>
<svg x="1216" y="400" width="50" height="5" overflow="hidden"><text x="49.3" y="8.0" text-anchor="end" font-family="Liberation Sans" font-weight="bold" font-size="10.6" stroke-width="0.3" fill="#000" stroke="#000">4400.00</text></svg>
<rect x="1216" y="103" width="52" height="12" fill="#000" shape-rendering="crispEdges"/>
<rect x="1216" y="104" width="50" height="10" fill="#0000e0" shape-rendering="crispEdges"/>
<svg x="1216" y="104" width="50" height="10" overflow="hidden"><text x="49.3" y="9.0" text-anchor="end" font-family="Liberation Sans" font-weight="bold" font-size="10.6" stroke-width="0.3" fill="#fff" stroke="#fff">5653.02</text></svg>
<path d="M1211 505h4v1h-4zM1213 500h2v1h-2zM1213 496h2v1h-2zM1213 491h2v1h-2zM1213 486h2v1h-2zM1211 482h4v1h-4zM1213 477h2v1h-2zM1213 472h2v1h-2zM1213 467h2v1h-2zM1213 463h2v1h-2zM1211 458h4v1h-4zM1213 453h2v1h-2zM1213 449h2v1h-2zM1213 444h2v1h-2zM1213 439h2v1h-2zM1211 434h4v1h-4zM1213 430h2v1h-2zM1213 425h2v1h-2zM1213 420h2v1h-2zM1213 416h2v1h-2zM1211 411h4v1h-4zM1211 522h4v1h-4zM1213 527h2v1h-2zM1213 531h2v1h-2zM1213 535h2v1h-2zM1213 539h2v1h-2zM1211 543h4v1h-4zM1213 547h2v1h-2zM1213 551h2v1h-2zM1213 555h2v1h-2zM1213 559h2v1h-2zM1211 563h4v1h-4zM1213 567h2v1h-2zM1213 571h2v1h-2zM1213 576h2v1h-2zM1213 580h2v1h-2zM1211 584h4v1h-4zM1213 588h2v1h-2zM1213 592h2v1h-2zM1213 596h2v1h-2zM1213 600h2v1h-2zM1211 604h4v1h-4zM1213 608h2v1h-2zM1213 518h2v1h-2zM1213 514h2v1h-2zM1211 705h4v1h-4zM1213 701h2v1h-2zM1213 697h2v1h-2zM1213 693h2v1h-2zM1213 689h2v1h-2zM1211 685h4v1h-4zM1213 681h2v1h-2zM1213 677h2v1h-2zM1213 673h2v1h-2zM1213 669h2v1h-2zM1211 665h4v1h-4zM1213 661h2v1h-2zM1213 657h2v1h-2zM1213 653h2v1h-2zM1213 649h2v1h-2zM1211 645h4v1h-4zM1213 640h2v1h-2zM1213 636h2v1h-2zM1213 632h2v1h-2zM1213 628h2v1h-2zM1211 624h4v1h-4zM1213 620h2v1h-2zM1213 616h2v1h-2zM1213 729h2v1h-2zM1213 735h2v1h-2zM1211 741h4v1h-4zM1213 746h2v1h-2zM1213 752h2v1h-2zM1213 758h2v1h-2zM1213 764h2v1h-2zM1211 770h4v1h-4zM1213 776h2v1h-2zM1213 781h2v1h-2zM1213 787h2v1h-2zM1213 793h2v1h-2zM1211 799h4v1h-4zM1213 804h2v1h-2zM1213 810h2v1h-2zM1213 816h2v1h-2z" fill="#000"/>
<rect x="1216" y="413" width="52" height="11" fill="#000" shape-rendering="crispEdges"/>
<rect x="1216" y="414" width="50" height="9" fill="url(#porange)" shape-rendering="crispEdges"/>
<svg x="1216" y="414" width="50" height="9" overflow="hidden"><text x="49.3" y="8.0" text-anchor="end" font-family="Liberation Sans" font-weight="bold" font-size="10.6" stroke-width="0.3" fill="#fff" stroke="#fff">92.30</text></svg>
<rect x="1216" y="434" width="52" height="7" fill="#000" shape-rendering="crispEdges"/>
<rect x="1216" y="435" width="50" height="5" fill="#c00000" shape-rendering="crispEdges"/>
<svg x="1216" y="435" width="50" height="5" overflow="hidden"><text x="49.3" y="5.0" text-anchor="end" font-family="Liberation Sans" font-weight="bold" font-size="10.6" stroke-width="0.3" fill="#fff" stroke="#fff">75.00</text></svg>
<rect x="1216" y="423" width="52" height="12" fill="#000" shape-rendering="crispEdges"/>
<rect x="1216" y="424" width="50" height="10" fill="url(#porange)" shape-rendering="crispEdges"/>
<svg x="1216" y="424" width="50" height="10" overflow="hidden"><text x="49.3" y="9.0" text-anchor="end" font-family="Liberation Sans" font-weight="bold" font-size="10.6" stroke-width="0.3" fill="#fff" stroke="#fff">81.59</text></svg>
<text x="1265.3" y="462.0" text-anchor="end" font-family="Liberation Sans" font-weight="bold" font-size="10.6" stroke-width="0.3" fill="#000" stroke="#000">50.00</text>
<rect x="1216" y="476" width="52" height="6" fill="#000" shape-rendering="crispEdges"/>
<rect x="1216" y="477" width="50" height="4" fill="#0000c0" shape-rendering="crispEdges"/>
<svg x="1216" y="477" width="50" height="4" overflow="hidden"><text x="49.3" y="10.0" text-anchor="end" font-family="Liberation Sans" font-weight="bold" font-size="10.6" stroke-width="0.3" fill="#fff" stroke="#fff">23.13</text></svg>
<rect x="1216" y="481" width="52" height="12" fill="#000" shape-rendering="crispEdges"/>
<rect x="1216" y="482" width="50" height="10" fill="url(#pblue)" shape-rendering="crispEdges"/>
<svg x="1216" y="482" width="50" height="10" overflow="hidden"><text x="49.3" y="9.0" text-anchor="end" font-family="Liberation Sans" font-weight="bold" font-size="10.6" stroke-width="0.3" fill="#fff" stroke="#fff">20.00</text></svg>
<rect x="1216" y="520" width="52" height="12" fill="#000" shape-rendering="crispEdges"/>
<rect x="1216" y="521" width="50" height="10" fill="#0000ff" shape-rendering="crispEdges"/>
<svg x="1216" y="521" width="50" height="10" overflow="hidden"><text x="49.3" y="9.0" text-anchor="end" font-family="Liberation Sans" font-weight="bold" font-size="10.6" stroke-width="0.3" fill="#000" stroke="#000">-13.53</text></svg>
<rect x="1216" y="536" width="52" height="12" fill="#000" shape-rendering="crispEdges"/>
<rect x="1216" y="537" width="50" height="10" fill="#ff0000" shape-rendering="crispEdges"/>
<svg x="1216" y="537" width="50" height="10" overflow="hidden"><text x="49.3" y="9.0" text-anchor="end" font-family="Liberation Sans" font-weight="bold" font-size="10.6" stroke-width="0.3" fill="#000" stroke="#000">-91.41</text></svg>
<text x="1265.3" y="587.0" text-anchor="end" font-family="Liberation Sans" font-weight="bold" font-size="10.6" stroke-width="0.3" fill="#000" stroke="#000">-300.00</text>
<text x="1265.3" y="608.0" text-anchor="end" font-family="Liberation Sans" font-weight="bold" font-size="10.6" stroke-width="0.3" fill="#000" stroke="#000">-400.00</text>
<text x="1265.3" y="648.0" text-anchor="end" font-family="Liberation Sans" font-weight="bold" font-size="10.6" stroke-width="0.3" fill="#000" stroke="#000">75.00</text>
<rect x="1216" y="643" width="52" height="12" fill="#000" shape-rendering="crispEdges"/>
<rect x="1216" y="644" width="50" height="10" fill="#008000" shape-rendering="crispEdges"/>
<svg x="1216" y="644" width="50" height="10" overflow="hidden"><text x="49.3" y="9.0" text-anchor="end" font-family="Liberation Sans" font-weight="bold" font-size="10.6" stroke-width="0.3" fill="#fff" stroke="#fff">69.59</text></svg>
<rect x="1216" y="659" width="52" height="12" fill="#000" shape-rendering="crispEdges"/>
<rect x="1216" y="660" width="50" height="10" fill="#0000ff" shape-rendering="crispEdges"/>
<svg x="1216" y="660" width="50" height="10" overflow="hidden"><text x="49.3" y="9.0" text-anchor="end" font-family="Liberation Sans" font-weight="bold" font-size="10.6" stroke-width="0.3" fill="#fff" stroke="#fff">50.23</text></svg>
<text x="1265.3" y="689.0" text-anchor="end" font-family="Liberation Sans" font-weight="bold" font-size="10.6" stroke-width="0.3" fill="#000" stroke="#000">25.00</text>
<rect x="1216" y="698" width="52" height="12" fill="#000" shape-rendering="crispEdges"/>
<rect x="1216" y="699" width="50" height="10" fill="#ff0000" shape-rendering="crispEdges"/>
<svg x="1216" y="699" width="50" height="10" overflow="hidden"><text x="49.3" y="9.0" text-anchor="end" font-family="Liberation Sans" font-weight="bold" font-size="10.6" stroke-width="0.3" fill="#fff" stroke="#fff">3.49</text></svg>
<rect x="1216" y="736" width="52" height="6" fill="#000" shape-rendering="crispEdges"/>
<rect x="1216" y="737" width="50" height="4" fill="#c00000" shape-rendering="crispEdges"/>
<svg x="1216" y="737" width="50" height="4" overflow="hidden"><text x="49.3" y="11.0" text-anchor="end" font-family="Liberation Sans" font-weight="bold" font-size="10.6" stroke-width="0.3" fill="#fff" stroke="#fff">75.00</text></svg>
<rect x="1216" y="740" width="52" height="12" fill="#000" shape-rendering="crispEdges"/>
<rect x="1216" y="741" width="50" height="10" fill="#0000ff" shape-rendering="crispEdges"/>
<svg x="1216" y="741" width="50" height="10" overflow="hidden"><text x="49.3" y="9.0" text-anchor="end" font-family="Liberation Sans" font-weight="bold" font-size="10.6" stroke-width="0.3" fill="#fff" stroke="#fff">71.59</text></svg>
<rect x="1216" y="765" width="52" height="12" fill="#000" shape-rendering="crispEdges"/>
<rect x="1216" y="766" width="50" height="10" fill="#0000d0" shape-rendering="crispEdges"/>
<svg x="1216" y="766" width="50" height="10" overflow="hidden"><text x="49.3" y="9.0" text-anchor="end" font-family="Liberation Sans" font-weight="bold" font-size="10.6" stroke-width="0.3" fill="#fff" stroke="#fff">50.00</text></svg>
<rect x="1216" y="793" width="52" height="12" fill="#000" shape-rendering="crispEdges"/>
<rect x="1216" y="794" width="50" height="10" fill="url(#pblue)" shape-rendering="crispEdges"/>
<svg x="1216" y="794" width="50" height="10" overflow="hidden"><text x="49.3" y="9.0" text-anchor="end" font-family="Liberation Sans" font-weight="bold" font-size="10.6" stroke-width="0.3" fill="#fff" stroke="#fff">25.00</text></svg>
<defs><filter id="shblur" filterUnits="userSpaceOnUse" x="0" y="0" width="1268" height="834"><feGaussianBlur stdDeviation="0.75"/></filter></defs>
<rect x="2.8" y="2.8" width="27" height="11" fill="#000" opacity="0.85" filter="url(#shblur)"/>
<rect x="1" y="1" width="27" height="11" fill="#fff" shape-rendering="crispEdges"/>
<text x="2" y="10.6" font-family="Liberation Sans" font-weight="bold" font-size="10" fill="#000">Data</text>
<rect x="2.8" y="407.8" width="55" height="11" fill="#000" opacity="0.85" filter="url(#shblur)"/>
<rect x="1" y="406" width="55" height="11" fill="#fff" shape-rendering="crispEdges"/>
<text x="2" y="415.6" font-family="Liberation Sans" font-weight="bold" font-size="10" fill="#000">Stochastic</text>
<rect x="2.8" y="515.8" width="32" height="11" fill="#000" opacity="0.85" filter="url(#shblur)"/>
<rect x="1" y="514" width="32" height="11" fill="#fff" shape-rendering="crispEdges"/>
<text x="2" y="523.6" font-family="Liberation Sans" font-weight="bold" font-size="10" fill="#000">MACD</text>
<rect x="2.8" y="616.8" width="25" height="11" fill="#000" opacity="0.85" filter="url(#shblur)"/>
<rect x="1" y="615" width="25" height="11" fill="#fff" shape-rendering="crispEdges"/>
<text x="2" y="624.6" font-family="Liberation Sans" font-weight="bold" font-size="10" fill="#000">ADX</text>
<rect x="2.8" y="718.8" width="33" height="11" fill="#000" opacity="0.85" filter="url(#shblur)"/>
<rect x="1" y="717" width="33" height="11" fill="#fff" shape-rendering="crispEdges"/>
<text x="2" y="726.6" font-family="Liberation Sans" font-weight="bold" font-size="10" fill="#000">RSI, 9</text>
<rect x="25" y="523" width="11" height="1" fill="#008000" shape-rendering="crispEdges"/>
<rect x="1216" y="818" width="52" height="1" fill="#000" shape-rendering="crispEdges"/>
<rect x="72" y="822" width="1" height="12" fill="#000" shape-rendering="crispEdges"/>
<text x="73" y="832" font-family="Liberation Sans" font-size="11" letter-spacing="0.7" fill="#000">Окт 31</text>
<rect x="156" y="822" width="1" height="12" fill="#000" shape-rendering="crispEdges"/>
<text x="157" y="832" font-family="Liberation Sans" font-size="11" letter-spacing="0.7" fill="#000">Ноя 7</text>
<rect x="261" y="822" width="1" height="12" fill="#000" shape-rendering="crispEdges"/>
<text x="262" y="832" font-family="Liberation Sans" font-size="11" letter-spacing="0.7" fill="#000">14</text>
<rect x="366" y="822" width="1" height="12" fill="#000" shape-rendering="crispEdges"/>
<text x="367" y="832" font-family="Liberation Sans" font-size="11" letter-spacing="0.7" fill="#000">21</text>
<rect x="471" y="822" width="1" height="12" fill="#000" shape-rendering="crispEdges"/>
<text x="472" y="832" font-family="Liberation Sans" font-size="11" letter-spacing="0.7" fill="#000">28</text>
<rect x="576" y="822" width="1" height="12" fill="#000" shape-rendering="crispEdges"/>
<text x="577" y="832" font-family="Liberation Sans" font-size="11" letter-spacing="0.7" fill="#000">Дек 5</text>
<rect x="681" y="822" width="1" height="12" fill="#000" shape-rendering="crispEdges"/>
<text x="682" y="832" font-family="Liberation Sans" font-size="11" letter-spacing="0.7" fill="#000">12</text>
<rect x="786" y="822" width="1" height="12" fill="#000" shape-rendering="crispEdges"/>
<text x="787" y="832" font-family="Liberation Sans" font-size="11" letter-spacing="0.7" fill="#000">19</text>
<rect x="891" y="822" width="1" height="12" fill="#000" shape-rendering="crispEdges"/>
<text x="892" y="832" font-family="Liberation Sans" font-size="11" letter-spacing="0.7" fill="#000">26</text>
<rect x="996" y="822" width="1" height="12" fill="#000" shape-rendering="crispEdges"/>
<text x="997" y="832" font-family="Liberation Sans" font-size="11" letter-spacing="0.7" fill="#000">Янв 3</text>
<rect x="1080" y="822" width="1" height="12" fill="#000" shape-rendering="crispEdges"/>
<text x="1081" y="832" font-family="Liberation Sans" font-size="11" letter-spacing="0.7" fill="#000">9</text>
<rect x="1252" y="819" width="16" height="15" fill="#b00808" shape-rendering="crispEdges"/>
<rect x="1254.5" y="822.5" width="11" height="8" rx="1.2" fill="none" stroke="#fff" stroke-width="1.1"/>
<path d="M1258.5 826.5h5.5M1261.5 824.3l2.2 2.2-2.2 2.2" fill="none" stroke="#fff" stroke-width="1.2"/>
<text x="952.5" y="433.3" font-family="Liberation Sans" font-size="17" textLength="313" lengthAdjust="spacingAndGlyphs" fill="#a8a09c" fill-opacity="0.85">Портал для трейдеров - ForTrader.ru</text>
</svg>
</body></html>
